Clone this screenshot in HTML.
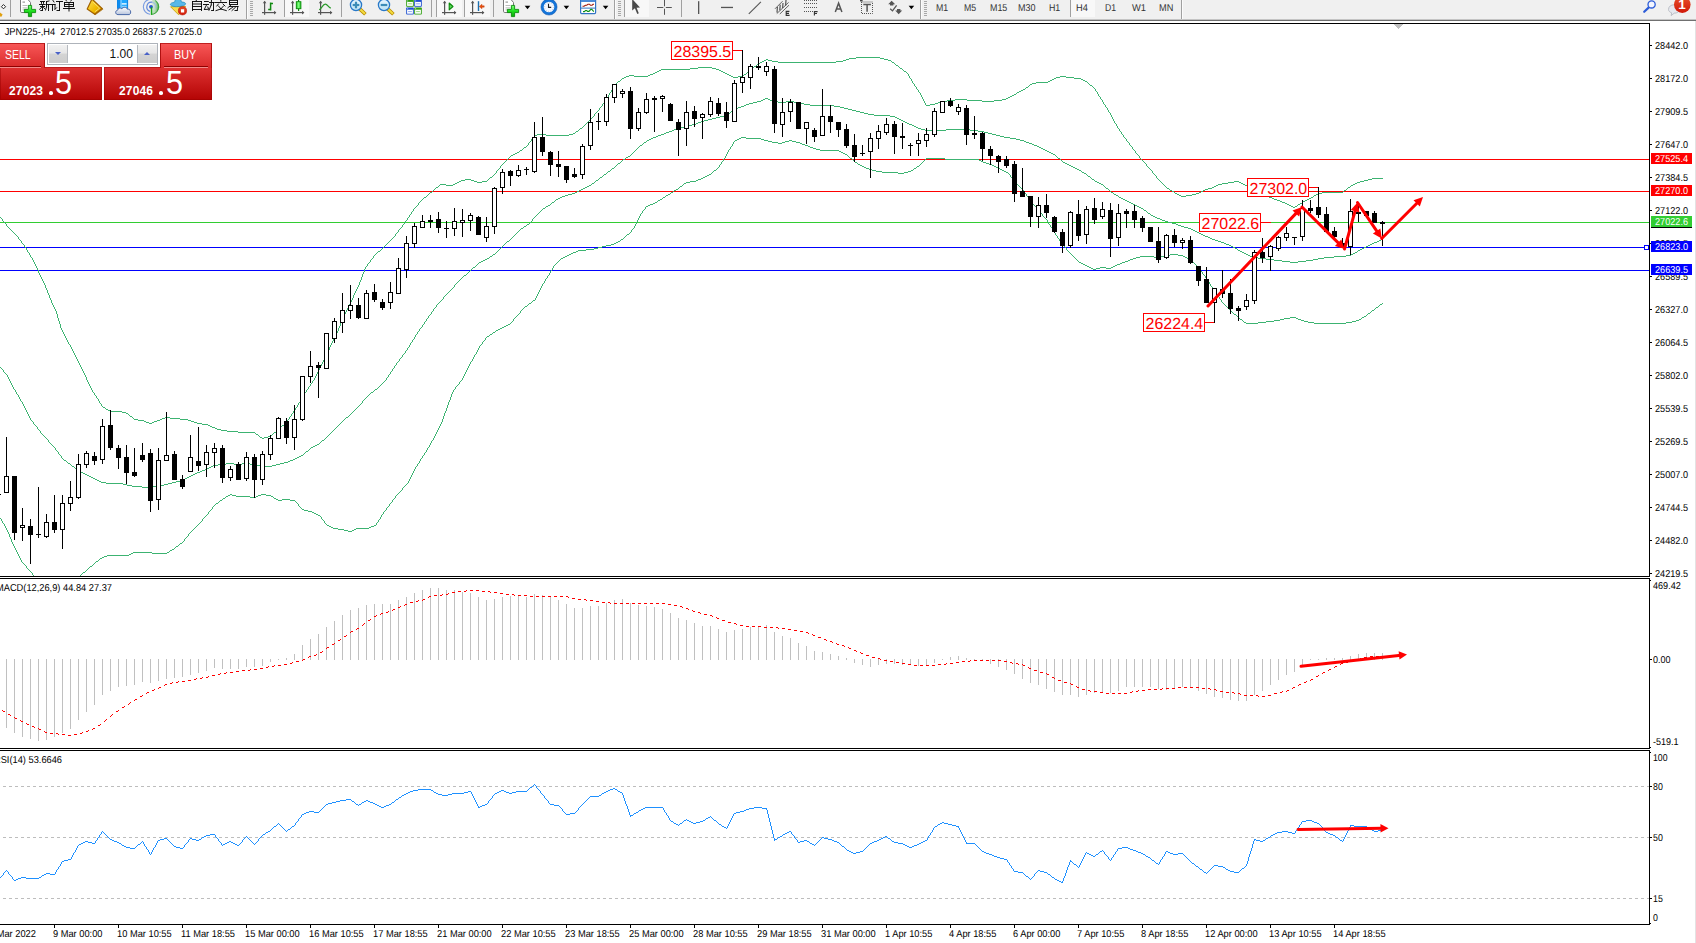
<!DOCTYPE html>
<html><head><meta charset="utf-8"><title>JPN225-,H4</title>
<style>
html,body{margin:0;padding:0;background:#fff;}
body{width:1696px;height:943px;overflow:hidden;position:relative;font-family:"Liberation Sans",sans-serif;}
#tb{position:absolute;left:0;top:0;width:1696px;height:19px;background:#f0f0f0;}
#tbl1{position:absolute;left:0;top:19px;width:1696px;height:1px;background:#c4c4c4;}
#tbl2{position:absolute;left:0;top:20px;width:1696px;height:1px;background:#707070;}
svg{position:absolute;left:0;top:0;}
svg text{font-family:"Liberation Sans",sans-serif;text-rendering:geometricPrecision;}
#oct{position:absolute;left:0;top:43px;width:212px;height:57px;color:#fff;}
#oct .sell{position:absolute;left:0;top:0;width:45px;height:25px;background:linear-gradient(#f75656,#d92a2a);z-index:2;box-sizing:border-box;border-top:1px solid #c02020;border-right:1px solid #b01010;}
#oct .buy{position:absolute;left:160px;top:0;width:52px;height:25px;background:linear-gradient(#f75656,#d92a2a);z-index:2;box-sizing:border-box;border-top:1px solid #c02020;border-left:1px solid #b01010;border-right:1px solid #b01010;}
#oct .sell span{position:absolute;left:5px;top:3.8px;font-size:12px;line-height:15px;transform:scaleX(0.875);transform-origin:0 0;}
#oct .buy span{position:absolute;left:12.8px;top:3.8px;font-size:12px;line-height:15px;transform:scaleX(0.9);transform-origin:0 0;}
#oct .sell:after{content:"";position:absolute;left:0;top:23px;width:41px;height:1px;background:#f28a8a;}
#oct .sell:before{content:"";position:absolute;left:0;top:22px;width:41px;height:1px;background:#8e0000;}
#oct .buy:after{content:"";position:absolute;left:3px;top:23px;width:44px;height:1px;background:#f28a8a;}
#oct .buy:before{content:"";position:absolute;left:3px;top:22px;width:44px;height:1px;background:#8e0000;}
#oct .pl{position:absolute;left:0;top:24px;width:102px;height:33px;background:linear-gradient(#de3232,#b40404);box-shadow:inset 0 0 0 1px rgba(150,0,0,.45);}
#oct .pr{position:absolute;left:104px;top:24px;width:108px;height:33px;background:linear-gradient(#de3232,#b40404);box-shadow:inset 0 0 0 1px rgba(150,0,0,.45);}
#oct .spin{position:absolute;left:47px;top:0;width:111px;height:22px;border:1px solid #aeb3ba;box-sizing:border-box;background:#fff;}
#oct .dn,#oct .up{position:absolute;top:1px;width:18px;height:18px;background:linear-gradient(#f2f2f2 0%,#e6e6e6 45%,#d4d4d4 50%,#cdcdcd 100%);border-right:1px solid #b6bac0;}
#oct .dn{left:1px;} #oct .up{right:0px;width:19px;border-right:none;border-left:1px solid #b6bac0;}
#oct .dn i{position:absolute;left:6px;top:7px;border-left:3px solid transparent;border-right:3px solid transparent;border-top:3px solid #4a62c8;}
#oct .up i{position:absolute;left:6px;top:7px;border-left:3px solid transparent;border-right:3px solid transparent;border-bottom:3px solid #4a62c8;}
#oct .val{position:absolute;right:24.2px;top:3px;color:#111;font-size:12px;line-height:15px;}
#oct .sm{position:absolute;font-weight:bold;font-size:12px;line-height:12px;top:18.2px;letter-spacing:0.15px;}
#oct .pl .sm{left:9px;} #oct .pr .sm{left:15px;}
#oct .dot{position:absolute;width:3.9px;height:3.7px;border-radius:50%;background:#fff;top:24.2px;font-size:0;}
#oct .pl .dot{left:48.8px;} #oct .pr .dot{left:55.3px;}
#oct .big{position:absolute;font-size:34px;line-height:34px;top:-1.6px;transform:scaleX(0.9);transform-origin:0 0;}
#oct .pl .big{left:54.6px;} #oct .pr .big{left:62.2px;}

</style></head><body>
<div id="tb"></div><div id="tbl1"></div><div id="tbl2"></div>
<svg width="1696" height="943" viewBox="0 0 1696 943">
<defs><clipPath id="cm"><rect x="0" y="24" width="1649" height="552"/></clipPath></defs>
<rect x="0" y="23" width="1650" height="1" fill="#000"/>
<rect x="1649" y="23" width="1" height="554" fill="#000"/>
<rect x="0" y="576" width="1650" height="1" fill="#000"/>
<rect x="0" y="578" width="1650" height="1" fill="#000"/>
<rect x="1649" y="578" width="1" height="171" fill="#000"/>
<rect x="0" y="748" width="1650" height="1" fill="#000"/>
<rect x="0" y="750" width="1650" height="1" fill="#000"/>
<rect x="1649" y="750" width="1" height="175" fill="#000"/>
<rect x="0" y="924" width="1650" height="1" fill="#000"/>
<rect x="1695" y="21" width="1" height="922" fill="#e3e3e3"/>
<rect x="0" y="159" width="1649" height="1" fill="#ff0000"/>
<rect x="0" y="191" width="1649" height="1" fill="#ff0000"/>
<rect x="0" y="222" width="1649" height="1" fill="#32cd32"/>
<rect x="0" y="247" width="1649" height="1" fill="#0000ff"/>
<rect x="0" y="270" width="1649" height="1" fill="#0000ff"/>
<path d="M856 57.5h24M849 58.5h7M880 58.5h4M766 59.5h2M846 59.5h3M884 59.5h4M764 60.5h2M768 60.5h4M843 60.5h3M888 60.5h3M762 61.5h2M772 61.5h6M836 61.5h7M891 61.5h1M760 62.5h2M778 62.5h58M892 62.5h2M759 63.5h1M894 63.5h1M757 64.5h2M895 64.5h1M756 65.5h1M896 65.5h2M754 66.5h2M898 66.5h1M698 67.5h14M753 67.5h1M899 67.5h1M690 68.5h8M712 68.5h4M752 68.5h1M900 68.5h2M661 69.5h29M716 69.5h3M750 69.5h2M902 69.5h1M659 70.5h2M719 70.5h2M749 70.5h1M903 70.5h1M657 71.5h2M721 71.5h2M748 71.5h1M904 71.5h2M655 72.5h2M723 72.5h2M747 72.5h1M906 72.5h1M653 73.5h2M725 73.5h2M746 73.5h1M907 73.5h1M650 74.5h3M727 74.5h2M744 74.5h2M908.5 74v2M629 75.5h5M648 75.5h2M729 75.5h2M743 75.5h1M626 76.5h3M634 76.5h14M731 76.5h2M738 76.5h5M909.5 76v2M1060 76.5h6M624 77.5h2M733 77.5h5M1056 77.5h4M1066 77.5h8M622 78.5h2M910 78.5h1M1054 78.5h2M1074 78.5h7M621 79.5h1M911.5 79v2M1052 79.5h2M1081 79.5h2M620 80.5h1M1050 80.5h2M1083 80.5h2M618 81.5h2M912.5 81v2M1048 81.5h2M1085 81.5h2M617 82.5h1M1036 82.5h12M1087 82.5h1M616 83.5h1M913 83.5h1M1032 83.5h4M1088 83.5h1M615 84.5h1M914.5 84v2M1030 84.5h2M1089 84.5h1M614 85.5h1M1029 85.5h1M1090 85.5h2M613.5 86v2M915 86.5h1M1028 86.5h1M1092 86.5h1M916.5 87v2M1026 87.5h2M1093 87.5h1M612.5 88v2M1025 88.5h1M1094 88.5h1M917 89.5h1M1023 89.5h2M1095.5 89v2M611.5 90v2M918.5 90v2M1021 90.5h2M1019 91.5h2M1096 91.5h1M610 92.5h1M919 92.5h1M1017 92.5h2M1097.5 92v2M609.5 93v2M920.5 93v2M1016 93.5h1M1014 94.5h2M1098.5 94v2M608.5 95v2M921.5 95v2M1012 95.5h2M1010 96.5h2M1099 96.5h1M607.5 97v2M922.5 97v2M1008 97.5h2M1100.5 97v2M1006 98.5h2M606 99.5h1M923.5 99v2M955 99.5h12M1002 99.5h4M1101 99.5h1M605.5 100v2M947 100.5h8M967 100.5h15M994 100.5h8M1102.5 100v2M924.5 101v2M942 101.5h5M982 101.5h12M604 102.5h1M938 102.5h4M1103.5 102v2M603 103.5h1M925.5 103v2M935 103.5h3M602.5 104v2M930 104.5h5M1104 104.5h1M926 105.5h4M1105.5 105v2M601 106.5h1M600 107.5h1M1106 107.5h1M599.5 108v2M1107.5 108v2M598 110.5h1M1108.5 110v2M597 111.5h1M596 112.5h1M1109 112.5h1M595 113.5h1M1110.5 113v2M594.5 114v2M1111.5 115v2M593 116.5h1M592 117.5h1M1112.5 117v2M591 118.5h1M590 119.5h1M1113.5 119v2M589 120.5h1M588 121.5h1M1114.5 121v2M587 122.5h1M586 123.5h1M1115 123.5h1M585 124.5h1M1116.5 124v2M584 125.5h1M583 126.5h1M1117.5 126v2M582 127.5h1M580 128.5h2M1118 128.5h1M579 129.5h1M1119.5 129v2M578 130.5h1M576 131.5h2M1120 131.5h1M575 132.5h1M1121.5 132v2M573 133.5h2M537 134.5h9M569 134.5h4M1122 134.5h1M535 135.5h2M546 135.5h23M1123.5 135v2M534 136.5h1M533 137.5h1M1124 137.5h1M532 138.5h1M1125 138.5h1M531.5 139v2M1126.5 139v2M530 141.5h1M1127 141.5h1M529 142.5h1M1128 142.5h1M528.5 143v2M1129.5 143v2M527 145.5h1M1130 145.5h1M526 146.5h1M1131 146.5h1M524 147.5h2M1132.5 147v2M523 148.5h1M522 149.5h1M1133 149.5h1M520 150.5h2M1134 150.5h1M519 151.5h1M1135.5 151v2M517 152.5h2M515 153.5h2M1136 153.5h1M513 154.5h2M1137 154.5h1M511 155.5h2M1138 155.5h1M510 156.5h1M1139.5 156v2M509 157.5h1M508 158.5h1M1140 158.5h1M507 159.5h1M1141 159.5h1M506 160.5h1M1142 160.5h1M505 161.5h1M1143 161.5h1M504 162.5h1M1144 162.5h1M503 163.5h1M1145 163.5h1M502 164.5h1M1146.5 164v2M501 165.5h1M500.5 166v2M1147 166.5h1M1148 167.5h1M499 168.5h1M1149 168.5h1M498 169.5h1M1150 169.5h1M497 170.5h1M1151 170.5h1M496.5 171v2M1152.5 171v2M495 173.5h1M1153 173.5h1M494 174.5h1M1154 174.5h1M493 175.5h1M1155 175.5h1M492 176.5h1M1156.5 176v2M490 177.5h2M489 178.5h1M1157 178.5h1M1372 178.5h11M465 179.5h6M488 179.5h1M1158 179.5h1M1368 179.5h4M461 180.5h4M471 180.5h3M487 180.5h1M1159 180.5h1M1364 180.5h4M459 181.5h2M474 181.5h3M482 181.5h5M1160 181.5h1M1234 181.5h5M1360 181.5h4M457 182.5h2M477 182.5h5M1161 182.5h1M1228 182.5h6M1239 182.5h2M1357 182.5h3M455 183.5h2M1162 183.5h1M1222 183.5h6M1241 183.5h2M1355 183.5h2M440 184.5h6M453 184.5h2M1163 184.5h1M1218 184.5h4M1243 184.5h2M1353 184.5h2M439 185.5h1M446 185.5h7M1164 185.5h1M1216 185.5h2M1245 185.5h2M1351 185.5h2M438 186.5h1M1165 186.5h1M1214 186.5h2M1247 186.5h2M1350 186.5h1M436 187.5h2M1166 187.5h1M1212 187.5h2M1249 187.5h1M1348 187.5h2M435 188.5h1M1167 188.5h2M1208 188.5h4M1250 188.5h2M1347 188.5h1M434 189.5h1M1169 189.5h1M1205 189.5h3M1252 189.5h2M1346 189.5h1M433 190.5h1M1170 190.5h2M1203 190.5h2M1254 190.5h2M1344 190.5h2M432 191.5h1M1172 191.5h2M1201 191.5h2M1256 191.5h2M1343 191.5h1M430 192.5h2M1174 192.5h1M1199 192.5h2M1258 192.5h3M1322 192.5h21M429 193.5h1M1175 193.5h2M1196 193.5h3M1261 193.5h2M1318 193.5h4M428 194.5h1M1177 194.5h2M1192 194.5h4M1263 194.5h2M1316 194.5h2M427 195.5h1M1179 195.5h2M1186 195.5h6M1265 195.5h2M1314 195.5h2M426 196.5h1M1181 196.5h5M1267 196.5h2M1313 196.5h1M424 197.5h2M1269 197.5h3M1311 197.5h2M423 198.5h1M1272 198.5h2M1309 198.5h2M422 199.5h1M1274 199.5h3M1307 199.5h2M421 200.5h1M1277 200.5h3M1305 200.5h2M420 201.5h1M1280 201.5h2M1303 201.5h2M419 202.5h1M1282 202.5h3M1302 202.5h1M418.5 203v2M1285 203.5h2M1300 203.5h2M1287 204.5h2M1298 204.5h2M417 205.5h1M1289 205.5h2M1297 205.5h1M416 206.5h1M1291 206.5h2M1295 206.5h2M415 207.5h1M1293 207.5h2M414 208.5h1M413.5 209v2M412 211.5h1M411.5 212v2M410 214.5h1M409.5 215v2M0 217.5h1M408 217.5h1M1 218.5h1M407.5 218v2M2.5 219v2M406 220.5h1M3 221.5h1M405.5 221v2M4 222.5h1M5 223.5h1M404 223.5h1M6.5 224v2M403 224.5h1M402.5 225v2M7 226.5h1M8 227.5h1M401 227.5h1M9 228.5h1M400 228.5h1M10 229.5h1M399 229.5h1M11 230.5h1M398.5 230v2M12 231.5h1M13 232.5h1M397 232.5h1M14 233.5h1M396 233.5h1M15 234.5h1M395.5 234v2M16 235.5h1M17 236.5h1M394 236.5h1M18.5 237v2M393 237.5h1M392 238.5h1M19 239.5h1M391 239.5h1M20 240.5h1M390 240.5h1M21.5 241v2M389 241.5h1M388 242.5h1M22 243.5h1M387 243.5h1M23 244.5h1M386 244.5h1M24.5 245v2M385 245.5h1M384 246.5h1M25 247.5h1M383 247.5h1M26.5 248v2M382 248.5h1M381 249.5h1M27.5 250v2M380 250.5h1M378 251.5h2M28 252.5h1M377 252.5h1M29.5 253v2M376 253.5h1M375 254.5h1M30.5 255v2M374 255.5h1M373.5 256v2M31 257.5h1M32.5 258v2M372 258.5h1M371 259.5h1M33.5 260v2M370.5 260v2M34.5 262v2M369 262.5h1M368 263.5h1M35.5 264v2M367.5 264v2M36.5 266v2M366 266.5h1M365.5 267v2M37.5 268v2M364.5 269v3M38.5 270v3M363.5 272v2M39.5 273v2M362.5 274v3M40.5 275v2M41.5 277v2M361.5 277v3M42.5 279v2M360.5 280v2M43.5 281v2M359.5 282v3M44.5 283v2M45.5 285v3M358.5 285v2M357.5 287v2M46.5 288v2M356.5 289v2M47.5 290v3M355.5 291v2M48.5 293v2M354.5 293v2M49.5 295v3M353.5 295v3M50.5 298v2M352.5 298v2M51.5 300v3M351.5 300v2M350.5 302v2M52.5 303v2M349.5 304v2M53.5 305v2M348.5 306v2M54.5 307v2M347.5 308v2M55.5 309v2M346.5 310v2M56.5 311v3M345.5 312v2M57.5 314v4M344.5 314v2M343.5 316v3M58.5 318v3M342.5 319v2M59.5 321v3M341.5 321v2M340.5 323v3M60.5 324v4M339.5 326v2M61.5 328v2M338.5 328v3M62.5 330v2M337.5 331v2M63.5 332v2M336.5 333v2M64.5 334v2M335.5 335v2M65.5 336v2M334.5 337v2M66.5 338v2M333.5 339v2M67.5 340v2M332.5 341v2M68.5 342v2M331.5 343v2M69 344.5h1M70.5 345v2M330.5 345v2M71.5 347v2M329.5 347v3M72.5 349v2M328.5 350v2M73.5 351v2M327.5 352v2M74.5 353v2M326.5 354v2M75.5 355v2M325.5 356v2M76.5 357v2M324.5 358v2M77.5 359v2M323.5 360v2M78.5 361v2M322.5 362v2M79.5 363v2M321.5 364v2M80.5 365v2M320.5 366v2M81.5 367v2M319.5 368v2M82.5 369v2M318.5 370v2M83.5 371v2M317.5 372v2M84.5 373v2M316.5 374v2M85.5 375v2M315.5 376v2M86.5 377v3M314.5 378v2M87.5 380v2M313 380.5h1M312.5 381v2M88.5 382v2M311 383.5h1M89.5 384v2M310.5 384v2M90.5 386v2M309 386.5h1M308.5 387v2M91.5 388v2M307 389.5h1M92.5 390v2M306.5 390v2M93 392.5h1M305 392.5h1M94.5 393v2M304.5 393v2M95 395.5h1M303.5 395v2M96.5 396v2M302 397.5h1M97 398.5h1M301.5 398v2M98.5 399v2M300.5 400v2M99.5 401v2M299 402.5h1M100 403.5h1M298.5 403v2M101.5 404v2M297.5 405v2M102 406.5h1M103 407.5h2M296 407.5h1M105 408.5h1M295.5 408v2M106 409.5h2M108 410.5h2M294 410.5h1M110 411.5h12M293.5 411v2M122 412.5h4M126 413.5h2M292 413.5h1M128 414.5h1M291.5 414v2M129 415.5h1M130 416.5h2M290 416.5h1M132 417.5h1M165 417.5h5M289.5 417v2M133 418.5h1M162 418.5h3M170 418.5h10M134 419.5h4M160 419.5h2M180 419.5h8M288 419.5h1M138 420.5h6M157 420.5h3M188 420.5h3M287.5 420v2M144 421.5h2M154 421.5h3M191 421.5h3M146 422.5h3M152 422.5h2M194 422.5h3M286 422.5h1M149 423.5h3M197 423.5h5M285 423.5h1M202 424.5h6M284 424.5h1M208 425.5h2M282 425.5h2M210 426.5h2M281 426.5h1M212 427.5h3M280 427.5h1M215 428.5h2M279 428.5h1M217 429.5h4M278 429.5h1M221 430.5h6M277 430.5h1M227 431.5h11M276 431.5h1M238 432.5h17M274 432.5h2M255 433.5h1M273 433.5h1M256 434.5h2M272 434.5h1M258 435.5h1M271 435.5h1M259 436.5h1M268 436.5h3M260 437.5h2M264 437.5h4M262 438.5h2" stroke="#3cb371" fill="none" shape-rendering="crispEdges"/>
<path d="M765 98.5h3M763 99.5h2M768 99.5h2M761 100.5h2M770 100.5h3M757 101.5h4M773 101.5h5M786 101.5h8M753 102.5h4M778 102.5h8M794 102.5h6M749 103.5h4M800 103.5h4M746 104.5h3M804 104.5h6M744 105.5h2M810 105.5h24M741 106.5h3M834 106.5h6M738 107.5h3M840 107.5h4M736 108.5h2M844 108.5h4M734 109.5h2M848 109.5h4M732 110.5h2M852 110.5h4M731 111.5h1M856 111.5h4M730 112.5h1M860 112.5h4M728 113.5h2M864 113.5h4M727 114.5h1M868 114.5h6M724 115.5h3M874 115.5h16M720 116.5h4M890 116.5h5M716 117.5h4M895 117.5h2M712 118.5h4M897 118.5h2M708 119.5h4M899 119.5h2M704 120.5h4M901 120.5h2M701 121.5h3M903 121.5h2M698 122.5h3M905 122.5h2M696 123.5h2M907 123.5h2M692 124.5h4M909 124.5h3M688 125.5h4M912 125.5h2M684 126.5h4M914 126.5h2M680 127.5h4M916 127.5h2M677 128.5h3M918 128.5h3M674 129.5h3M921 129.5h4M946 129.5h24M672 130.5h2M925 130.5h21M970 130.5h8M669 131.5h3M978 131.5h6M666 132.5h3M984 132.5h4M664 133.5h2M988 133.5h4M661 134.5h3M992 134.5h4M658 135.5h3M996 135.5h4M656 136.5h2M1000 136.5h4M653 137.5h3M1004 137.5h6M651 138.5h2M1010 138.5h6M649 139.5h2M1016 139.5h4M647 140.5h2M1020 140.5h4M646 141.5h1M1024 141.5h2M644 142.5h2M1026 142.5h3M643 143.5h1M1029 143.5h3M642 144.5h1M1032 144.5h2M640 145.5h2M1034 145.5h3M639 146.5h1M1037 146.5h2M638 147.5h1M1039 147.5h2M637 148.5h1M1041 148.5h2M636 149.5h1M1043 149.5h2M635 150.5h1M1045 150.5h2M634 151.5h1M1047 151.5h2M633 152.5h1M1049 152.5h2M632 153.5h1M1051 153.5h2M631 154.5h1M1053 154.5h2M630 155.5h1M1055 155.5h1M628 156.5h2M1056 156.5h1M626 157.5h2M1057 157.5h1M625 158.5h1M1058 158.5h2M623 159.5h2M1060 159.5h1M622 160.5h1M1061 160.5h1M621 161.5h1M1062 161.5h1M620 162.5h1M1063 162.5h2M618 163.5h2M1065 163.5h2M617 164.5h1M1067 164.5h2M616 165.5h1M1069 165.5h2M615 166.5h1M1071 166.5h2M614 167.5h1M1073 167.5h2M612 168.5h2M1075 168.5h2M611 169.5h1M1077 169.5h2M610 170.5h1M1079 170.5h2M608 171.5h2M1081 171.5h1M607 172.5h1M1082 172.5h2M606 173.5h1M1084 173.5h2M604 174.5h2M1086 174.5h1M603 175.5h1M1087 175.5h1M602 176.5h1M1088 176.5h2M600 177.5h2M1090 177.5h1M599 178.5h1M1091 178.5h1M598 179.5h1M1092 179.5h2M596 180.5h2M1094 180.5h1M595 181.5h1M1095 181.5h2M594 182.5h1M1097 182.5h2M592 183.5h2M1099 183.5h2M591 184.5h1M1101 184.5h2M589 185.5h2M1103 185.5h1M587 186.5h2M1104 186.5h1M585 187.5h2M1105 187.5h1M583 188.5h2M1106 188.5h2M581 189.5h2M1108 189.5h1M579 190.5h2M1109 190.5h1M577 191.5h2M1110 191.5h1M575 192.5h2M1111 192.5h2M572 193.5h3M1113 193.5h1M568 194.5h4M1114 194.5h2M565 195.5h3M1116 195.5h2M562 196.5h3M1118 196.5h1M560 197.5h2M1119 197.5h2M558 198.5h2M1121 198.5h2M556 199.5h2M1123 199.5h2M555 200.5h1M1125 200.5h2M554 201.5h1M1127 201.5h2M552 202.5h2M1129 202.5h2M551 203.5h1M1131 203.5h2M550 204.5h1M1133 204.5h2M548 205.5h2M1135 205.5h2M546 206.5h2M1137 206.5h2M545 207.5h1M1139 207.5h2M543 208.5h2M1141 208.5h2M542 209.5h1M1143 209.5h1M541 210.5h1M1144 210.5h2M540 211.5h1M1146 211.5h1M539 212.5h1M1147 212.5h1M538 213.5h1M1148 213.5h2M537 214.5h1M1150 214.5h1M536 215.5h1M1151 215.5h2M535 216.5h1M1153 216.5h2M534 217.5h1M1155 217.5h2M533 218.5h1M1157 218.5h3M532.5 219v2M1160 219.5h2M1162 220.5h3M531 221.5h1M1165 221.5h3M530 222.5h1M1168 222.5h4M529 223.5h1M1172 223.5h4M527 224.5h2M1176 224.5h2M526 225.5h1M1178 225.5h3M524 226.5h2M1181 226.5h3M523 227.5h1M1184 227.5h4M521 228.5h2M1188 228.5h3M520 229.5h1M1191 229.5h2M519 230.5h1M1193 230.5h2M518 231.5h1M1195 231.5h2M517 232.5h1M1197 232.5h2M516 233.5h1M1199 233.5h2M515 234.5h1M1201 234.5h2M514 235.5h1M1203 235.5h2M513 236.5h1M1205 236.5h3M512 237.5h1M1208 237.5h2M511 238.5h1M1210 238.5h2M510 239.5h1M1212 239.5h3M1381 239.5h2M509 240.5h1M1215 240.5h3M1379 240.5h2M507 241.5h2M1218 241.5h3M1377 241.5h2M506 242.5h1M1221 242.5h3M1374 242.5h3M505 243.5h1M1224 243.5h2M1372 243.5h2M504 244.5h1M1226 244.5h3M1370 244.5h2M503 245.5h1M1229 245.5h2M1368 245.5h2M502 246.5h1M1231 246.5h2M1366 246.5h2M501 247.5h1M1233 247.5h2M1364 247.5h2M500 248.5h1M1235 248.5h2M1362 248.5h2M499 249.5h1M1237 249.5h1M1360 249.5h2M498 250.5h1M1238 250.5h2M1358 250.5h2M497 251.5h1M1240 251.5h2M1357 251.5h1M496 252.5h1M1242 252.5h2M1355 252.5h2M495 253.5h1M1244 253.5h2M1353 253.5h2M493 254.5h2M1246 254.5h2M1351 254.5h2M492 255.5h1M1248 255.5h2M1346 255.5h5M490 256.5h2M1250 256.5h3M1334 256.5h12M489 257.5h1M1253 257.5h5M1324 257.5h10M487 258.5h2M1258 258.5h8M1318 258.5h6M485 259.5h2M1266 259.5h8M1313 259.5h5M483 260.5h2M1274 260.5h8M1306 260.5h7M481 261.5h2M1282 261.5h8M1298 261.5h8M479 262.5h2M1290 262.5h8M478 263.5h1M477 264.5h1M476 265.5h1M475 266.5h1M473 267.5h2M472 268.5h1M471 269.5h1M470 270.5h1M469 271.5h1M468 272.5h1M467 273.5h1M466 274.5h1M464 275.5h2M463 276.5h1M462 277.5h1M461 278.5h1M460 279.5h1M459 280.5h1M458 281.5h1M457 282.5h1M456 283.5h1M455 284.5h1M454.5 285v2M453 287.5h1M452 288.5h1M451 289.5h1M450 290.5h1M449 291.5h1M448 292.5h1M447 293.5h1M446 294.5h1M445 295.5h1M444 296.5h1M443.5 297v2M442 299.5h1M441 300.5h1M440 301.5h1M439 302.5h1M438 303.5h1M437 304.5h1M436.5 305v2M435 307.5h1M434 308.5h1M433.5 309v2M432 311.5h1M431.5 312v2M430 314.5h1M429 315.5h1M428.5 316v2M427 318.5h1M426.5 319v2M425 321.5h1M424.5 322v2M423 324.5h1M422.5 325v2M421 327.5h1M420 328.5h1M419.5 329v2M418 331.5h1M417.5 332v2M416 334.5h1M415.5 335v2M414.5 337v2M413 339.5h1M412.5 340v2M411 342.5h1M410.5 343v2M409.5 345v2M408 347.5h1M407.5 348v2M406 350.5h1M405.5 351v2M404 353.5h1M403 354.5h1M402.5 355v2M401 357.5h1M400 358.5h1M399.5 359v2M398 361.5h1M397 362.5h1M396.5 363v2M395 365.5h1M394.5 366v2M0 367.5h1M1 368.5h1M393 368.5h1M2 369.5h1M392.5 369v2M3.5 370v2M391 371.5h1M4 372.5h1M390.5 372v2M5 373.5h1M6 374.5h1M389 374.5h1M7.5 375v2M388.5 375v2M8.5 377v2M387 377.5h1M386.5 378v2M9.5 379v2M385 380.5h1M10.5 381v2M384 381.5h1M383 382.5h1M11.5 383v2M382 383.5h1M381 384.5h1M12.5 385v2M380 385.5h1M379 386.5h1M13.5 387v2M378 387.5h1M377 388.5h1M14 389.5h1M375 389.5h2M15.5 390v2M374 390.5h1M373 391.5h1M16.5 392v2M371 392.5h2M370 393.5h1M17 394.5h1M369 394.5h1M18.5 395v2M368 395.5h1M367 396.5h1M19.5 397v2M366 397.5h1M365 398.5h1M20.5 399v2M364 399.5h1M363 400.5h1M21 401.5h1M362.5 401v2M22.5 402v2M361 403.5h1M23.5 404v2M360 404.5h1M359 405.5h1M24.5 406v2M358 406.5h1M357 407.5h1M25.5 408v2M356 408.5h1M355 409.5h1M26.5 410v2M354 410.5h1M353 411.5h1M27.5 412v2M352 412.5h1M351 413.5h1M28.5 414v2M350 414.5h1M349 415.5h1M29.5 416v2M348 416.5h1M346 417.5h2M30.5 418v2M345 418.5h1M344 419.5h1M31 420.5h1M343 420.5h1M32 421.5h1M342 421.5h1M33.5 422v2M341 422.5h1M340 423.5h1M34 424.5h1M339 424.5h1M35 425.5h1M338 425.5h1M36 426.5h1M337 426.5h1M37.5 427v2M336 427.5h1M335 428.5h1M38 429.5h1M334 429.5h1M39 430.5h1M333 430.5h1M40.5 431v2M332 431.5h1M331 432.5h1M41 433.5h1M330 433.5h1M42 434.5h1M329 434.5h1M43 435.5h1M328 435.5h1M44 436.5h1M327 436.5h1M45 437.5h1M326 437.5h1M46 438.5h1M325 438.5h1M47 439.5h1M324 439.5h1M48.5 440v2M322 440.5h2M321 441.5h1M49 442.5h1M320 442.5h1M50 443.5h1M319 443.5h1M51 444.5h1M317 444.5h2M52 445.5h1M315 445.5h2M53 446.5h1M313 446.5h2M54 447.5h1M311 447.5h2M55.5 448v2M310 448.5h1M309 449.5h1M56 450.5h1M308 450.5h1M57 451.5h1M306 451.5h2M58.5 452v2M305 452.5h1M304 453.5h1M59 454.5h1M303 454.5h1M60 455.5h1M301 455.5h2M61.5 456v2M299 456.5h2M297 457.5h2M62 458.5h1M295 458.5h2M63 459.5h1M293 459.5h2M64 460.5h2M290 460.5h3M66 461.5h1M288 461.5h2M67 462.5h1M284 462.5h4M68 463.5h2M226 463.5h8M242 463.5h8M280 463.5h4M70 464.5h1M218 464.5h8M234 464.5h8M250 464.5h6M276 464.5h4M71 465.5h1M213 465.5h5M256 465.5h4M272 465.5h4M72 466.5h2M211 466.5h2M260 466.5h12M74 467.5h1M209 467.5h2M75 468.5h1M207 468.5h2M76 469.5h2M205 469.5h2M78 470.5h1M202 470.5h3M79 471.5h2M200 471.5h2M81 472.5h2M197 472.5h3M83 473.5h2M195 473.5h2M85 474.5h2M193 474.5h2M87 475.5h2M191 475.5h2M89 476.5h2M189 476.5h2M91 477.5h2M187 477.5h2M93 478.5h2M185 478.5h2M95 479.5h2M183 479.5h2M97 480.5h2M180 480.5h3M99 481.5h2M176 481.5h4M101 482.5h5M172 482.5h4M106 483.5h17M168 483.5h4M123 484.5h4M164 484.5h4M127 485.5h5M158 485.5h6M132 486.5h10M153 486.5h5M142 487.5h11" stroke="#3cb371" fill="none" shape-rendering="crispEdges"/>
<path d="M0 518.5h1M1.5 519v2M2.5 521v2M3 523.5h1M4.5 524v2M5.5 526v2M6.5 528v2M7.5 530v2M8.5 532v2M9.5 534v3M10.5 537v2M11.5 539v3M12.5 542v2M13.5 544v2M14.5 546v2M15.5 548v2M16.5 550v2M17.5 552v2M18.5 554v2M19.5 556v2M20.5 558v2M21.5 560v2M22 562.5h1M23 563.5h1M24 564.5h1M25 565.5h1M26.5 566v2M27 568.5h1M28 569.5h1M29 570.5h1M30 571.5h1M31 572.5h1M32.5 573v2M33 575.5h1" stroke="#3cb371" fill="none" shape-rendering="crispEdges"/>
<path d="M741 137.5h5M739 138.5h2M746 138.5h15M737 139.5h2M761 139.5h3M735 140.5h2M764 140.5h4M789 140.5h3M734 141.5h1M768 141.5h4M785 141.5h4M792 141.5h4M733.5 142v2M772 142.5h6M782 142.5h3M796 142.5h4M778 143.5h4M800 143.5h2M732.5 144v2M802 144.5h3M805 145.5h3M731 146.5h1M808 146.5h2M730.5 147v2M810 147.5h3M813 148.5h3M729 149.5h1M816 149.5h4M728.5 150v2M820 150.5h19M839 151.5h2M727.5 152v2M841 152.5h2M843 153.5h2M726.5 154v2M845 154.5h2M847 155.5h1M725.5 156v2M848 156.5h1M849 157.5h1M724 158.5h1M850 158.5h2M926 158.5h19M723.5 159v2M852 159.5h1M925 159.5h1M945 159.5h34M853 160.5h1M924 160.5h1M979 160.5h2M722 161.5h1M854 161.5h1M923 161.5h1M981 161.5h2M721.5 162v2M855 162.5h2M922 162.5h1M983 162.5h3M857 163.5h1M921 163.5h1M986 163.5h3M720 164.5h1M858 164.5h2M920 164.5h1M989 164.5h3M719.5 165v2M860 165.5h2M919 165.5h1M992 165.5h2M862 166.5h2M917 166.5h2M994 166.5h2M718 167.5h1M864 167.5h2M916 167.5h1M996 167.5h2M717 168.5h1M866 168.5h3M914 168.5h2M998 168.5h2M716 169.5h1M869 169.5h3M913 169.5h1M1000 169.5h2M714 170.5h2M872 170.5h4M911 170.5h2M1002 170.5h2M713 171.5h1M876 171.5h6M908 171.5h3M1004 171.5h2M712 172.5h1M882 172.5h16M904 172.5h4M1006 172.5h2M711 173.5h1M898 173.5h6M1008 173.5h1M709 174.5h2M1009 174.5h1M707 175.5h2M1010.5 175v2M705 176.5h2M703 177.5h2M1011 177.5h1M701 178.5h2M1012 178.5h1M698 179.5h3M1013.5 179v2M696 180.5h2M690 181.5h6M1014 181.5h1M686 182.5h4M1015 182.5h1M684 183.5h2M1016 183.5h1M683 184.5h1M1017 184.5h1M682 185.5h1M1018 185.5h1M680 186.5h2M1019 186.5h1M679 187.5h1M1020 187.5h1M678 188.5h1M1021 188.5h1M676 189.5h2M1022 189.5h1M674 190.5h2M1023.5 190v2M673 191.5h1M671 192.5h2M1024 192.5h1M670 193.5h1M1025 193.5h1M668 194.5h2M1026.5 194v2M666 195.5h2M665 196.5h1M1027 196.5h1M663 197.5h2M1028 197.5h1M662 198.5h1M1029.5 198v2M660 199.5h2M658 200.5h2M1030 200.5h1M657 201.5h1M1031 201.5h1M655 202.5h2M1032.5 202v2M653 203.5h2M650 204.5h3M1033 204.5h1M648 205.5h2M1034 205.5h1M646 206.5h2M1035 206.5h1M645.5 207v2M1036.5 207v2M644 209.5h1M1037 209.5h1M643 210.5h1M1038 210.5h1M642.5 211v2M1039 211.5h1M1040 212.5h1M641 213.5h1M1041 213.5h1M640.5 214v2M1042.5 214v2M639.5 216v2M1043 216.5h1M1044 217.5h1M638.5 218v2M1045 218.5h1M1046 219.5h1M637.5 220v2M1047.5 220v2M636.5 222v2M1048.5 222v2M635.5 224v2M1049 224.5h1M1050.5 225v2M634.5 226v2M1051 227.5h1M633 228.5h1M1052.5 228v2M632 229.5h1M631.5 230v2M1053.5 230v2M630 232.5h1M1054 232.5h1M629 233.5h1M1055.5 233v2M627 234.5h2M626 235.5h1M1056 235.5h1M625 236.5h1M1057.5 236v2M624 237.5h1M623 238.5h1M1058 238.5h1M621 239.5h2M1059.5 239v2M620 240.5h1M618 241.5h2M1060 241.5h1M616 242.5h2M1061.5 242v2M614 243.5h2M611 244.5h3M1062 244.5h1M606 245.5h5M1063 245.5h1M602 246.5h4M1064 246.5h1M598 247.5h4M1065 247.5h1M594 248.5h4M1066.5 248v2M586 249.5h8M578 250.5h8M1067 250.5h1M576 251.5h2M1068 251.5h1M573 252.5h3M1069 252.5h1M571 253.5h2M1070 253.5h1M569 254.5h2M1071 254.5h1M1170 254.5h8M567 255.5h2M1072 255.5h1M1164 255.5h6M1178 255.5h5M565 256.5h2M1073 256.5h1M1140 256.5h14M1160 256.5h4M1183 256.5h2M563 257.5h2M1074 257.5h1M1136 257.5h4M1154 257.5h6M1185 257.5h2M561 258.5h2M1075 258.5h1M1133 258.5h3M1187 258.5h2M560 259.5h1M1076 259.5h1M1130 259.5h3M1189 259.5h2M559 260.5h1M1077 260.5h1M1128 260.5h2M1191 260.5h1M558 261.5h1M1078 261.5h1M1125 261.5h3M1192 261.5h1M557 262.5h1M1079 262.5h2M1122 262.5h3M1193 262.5h1M556 263.5h1M1081 263.5h2M1120 263.5h2M1194 263.5h1M555 264.5h1M1083 264.5h2M1117 264.5h3M1195 264.5h1M554 265.5h1M1085 265.5h2M1115 265.5h2M1196 265.5h1M553.5 266v2M1087 266.5h2M1113 266.5h2M1197 266.5h1M1089 267.5h2M1100 267.5h6M1111 267.5h2M1198 267.5h1M552.5 268v2M1091 268.5h2M1096 268.5h4M1106 268.5h5M1199.5 268v2M1093 269.5h3M551 270.5h1M1200 270.5h1M550.5 271v2M1201 271.5h1M1202.5 272v2M549.5 273v2M1203 274.5h1M548 275.5h1M1204 275.5h1M547.5 276v2M1205.5 276v2M546 278.5h1M1206 278.5h1M545.5 279v2M1207.5 279v2M544.5 281v2M1208 281.5h1M1209.5 282v2M543 283.5h1M542.5 284v2M1210.5 284v2M541.5 286v2M1211 286.5h1M1212.5 287v2M540.5 288v2M1213 289.5h1M539.5 290v2M1214.5 290v2M538.5 292v2M1215 292.5h1M1216.5 293v2M537.5 294v2M1217 295.5h1M536.5 296v2M1218 296.5h1M1219.5 297v2M535.5 298v2M1220 299.5h1M533 300.5h2M1221.5 300v2M532 301.5h1M531 302.5h1M1222 302.5h1M529 303.5h2M1223 303.5h1M1382 303.5h1M528 304.5h1M1224 304.5h1M1380 304.5h2M527 305.5h1M1225 305.5h1M1379 305.5h1M525 306.5h2M1226 306.5h1M1378 306.5h1M524 307.5h1M1227 307.5h1M1376 307.5h2M523 308.5h1M1228 308.5h1M1375 308.5h1M522 309.5h1M1229 309.5h1M1374 309.5h1M521 310.5h1M1230 310.5h1M1372 310.5h2M520.5 311v2M1231 311.5h1M1371 311.5h1M1232 312.5h1M1370 312.5h1M519 313.5h1M1233 313.5h1M1368 313.5h2M518 314.5h1M1234 314.5h2M1367 314.5h1M517 315.5h1M1236 315.5h1M1366 315.5h1M516 316.5h1M1237 316.5h1M1364 316.5h2M515 317.5h1M1238 317.5h1M1290 317.5h6M1362 317.5h2M514 318.5h1M1239 318.5h1M1284 318.5h6M1296 318.5h2M1361 318.5h1M513.5 319v2M1240 319.5h2M1280 319.5h4M1298 319.5h3M1359 319.5h2M1242 320.5h1M1274 320.5h6M1301 320.5h3M1356 320.5h3M512 321.5h1M1243 321.5h1M1266 321.5h8M1304 321.5h4M1352 321.5h4M511 322.5h1M1244 322.5h2M1258 322.5h8M1308 322.5h6M1346 322.5h6M510 323.5h1M1246 323.5h12M1314 323.5h32M508 324.5h2M506 325.5h2M504 326.5h2M502 327.5h2M500 328.5h2M498 329.5h2M496 330.5h2M495 331.5h1M493 332.5h2M492 333.5h1M490 334.5h2M489 335.5h1M487 336.5h2M486 337.5h1M485.5 338v2M484 340.5h1M483 341.5h1M482.5 342v2M481 344.5h1M480 345.5h1M479.5 346v2M478.5 348v2M477.5 350v2M476.5 352v2M475 354.5h1M474.5 355v2M473.5 357v2M472.5 359v2M471 361.5h1M470.5 362v2M469.5 364v2M468.5 366v2M467.5 368v2M466.5 370v2M465.5 372v2M464.5 374v2M463.5 376v2M462.5 378v2M461 380.5h1M460 381.5h1M459.5 382v2M458 384.5h1M457 385.5h1M456 386.5h1M455.5 387v2M454 389.5h1M453.5 390v2M452.5 392v2M451.5 394v3M450.5 397v3M449.5 400v2M448.5 402v3M447.5 405v3M446.5 408v3M445.5 411v2M444.5 413v3M443.5 416v3M442.5 419v3M441.5 422v2M440.5 424v2M439.5 426v2M438.5 428v2M437.5 430v2M436.5 432v2M435.5 434v2M434.5 436v2M433.5 438v2M432 440.5h1M431.5 441v2M430.5 443v2M429.5 445v2M428 447.5h1M427.5 448v2M426.5 450v2M425 452.5h1M424.5 453v2M423 455.5h1M422.5 456v2M421 458.5h1M420.5 459v2M419.5 461v2M418 463.5h1M417.5 464v2M416 466.5h1M415.5 467v2M414.5 469v2M413.5 471v2M412.5 473v2M411.5 475v2M410.5 477v2M409.5 479v2M408.5 481v2M407 483.5h1M406 484.5h1M405 485.5h1M404 486.5h1M403 487.5h1M402.5 488v2M401 490.5h1M400 491.5h1M399 492.5h1M398 493.5h1M230 494.5h2M261 494.5h5M397 494.5h1M228 495.5h2M232 495.5h4M258 495.5h3M266 495.5h5M396 495.5h1M226 496.5h2M236 496.5h14M256 496.5h2M271 496.5h2M395.5 496v2M225 497.5h1M250 497.5h6M273 497.5h1M223 498.5h2M274 498.5h2M394 498.5h1M222 499.5h1M276 499.5h2M282 499.5h8M393 499.5h1M220 500.5h2M278 500.5h4M290 500.5h5M392.5 500v2M219 501.5h1M295 501.5h1M218 502.5h1M296 502.5h1M391 502.5h1M216 503.5h2M297 503.5h1M390 503.5h1M215 504.5h1M298.5 504v2M389.5 504v2M214 505.5h1M213 506.5h1M299 506.5h1M388 506.5h1M212.5 507v2M300 507.5h1M387 507.5h1M301 508.5h1M386.5 508v2M211 509.5h1M302 509.5h2M210 510.5h1M304 510.5h4M385 510.5h1M209 511.5h1M308 511.5h4M384 511.5h1M208.5 512v2M312 512.5h2M383.5 512v2M314 513.5h2M207 514.5h1M316 514.5h2M382 514.5h1M206 515.5h1M318 515.5h2M381.5 515v2M205 516.5h1M320 516.5h1M204 517.5h1M321.5 517v2M380.5 517v2M203 518.5h1M202.5 519v2M322 519.5h1M379 519.5h1M323 520.5h1M378.5 520v2M201 521.5h1M324.5 521v2M200 522.5h1M377 522.5h1M199 523.5h1M325 523.5h1M376.5 523v2M198 524.5h1M326 524.5h1M197 525.5h1M327 525.5h2M374 525.5h2M196 526.5h1M329 526.5h2M371 526.5h3M195 527.5h1M331 527.5h2M369 527.5h2M194 528.5h1M333 528.5h5M356 528.5h13M193 529.5h1M338 529.5h6M354 529.5h2M192 530.5h1M344 530.5h4M352 530.5h2M191 531.5h1M348 531.5h4M190 532.5h1M189 533.5h1M188.5 534v2M187 536.5h1M186 537.5h1M185 538.5h1M184.5 539v2M183 541.5h1M182 542.5h1M180 543.5h2M179 544.5h1M178 545.5h1M176 546.5h2M175 547.5h1M174 548.5h1M172 549.5h2M170 550.5h2M169 551.5h1M133 552.5h19M167 552.5h2M131 553.5h2M152 553.5h15M129 554.5h2M107 555.5h22M104 556.5h3M102 557.5h2M100 558.5h2M99 559.5h1M98 560.5h1M96 561.5h2M95 562.5h1M94 563.5h1M93 564.5h1M92 565.5h1M90 566.5h2M89 567.5h1M88 568.5h1M87 569.5h1M86 570.5h1M85 571.5h1M83 572.5h2M82 573.5h1M81 574.5h1M80 575.5h1" stroke="#3cb371" fill="none" shape-rendering="crispEdges"/>
<g shape-rendering="crispEdges">
<rect x="0" y="494" width="1" height="1" fill="#000"/>
<rect x="6" y="437" width="1" height="56" fill="#000"/>
<rect x="4" y="476" width="5" height="17" fill="#000"/>
<rect x="5" y="477" width="3" height="15" fill="#fff"/>
<rect x="14" y="476" width="1" height="64" fill="#000"/>
<rect x="12" y="476" width="5" height="57" fill="#000"/>
<rect x="22" y="508" width="1" height="33" fill="#000"/>
<rect x="20" y="525" width="5" height="3" fill="#000"/>
<rect x="21" y="526" width="3" height="1" fill="#fff"/>
<rect x="30" y="519" width="1" height="45" fill="#000"/>
<rect x="28" y="526" width="5" height="9" fill="#000"/>
<rect x="38" y="487" width="1" height="51" fill="#000"/>
<rect x="36" y="534" width="5" height="1" fill="#000"/>
<rect x="46" y="514" width="1" height="24" fill="#000"/>
<rect x="44" y="522" width="5" height="15" fill="#000"/>
<rect x="45" y="523" width="3" height="13" fill="#fff"/>
<rect x="54" y="495" width="1" height="38" fill="#000"/>
<rect x="52" y="522" width="5" height="8" fill="#000"/>
<rect x="62" y="495" width="1" height="54" fill="#000"/>
<rect x="60" y="503" width="5" height="27" fill="#000"/>
<rect x="61" y="504" width="3" height="25" fill="#fff"/>
<rect x="70" y="481" width="1" height="30" fill="#000"/>
<rect x="68" y="497" width="5" height="7" fill="#000"/>
<rect x="69" y="498" width="3" height="5" fill="#fff"/>
<rect x="78" y="454" width="1" height="45" fill="#000"/>
<rect x="76" y="464" width="5" height="34" fill="#000"/>
<rect x="77" y="465" width="3" height="32" fill="#fff"/>
<rect x="86" y="451" width="1" height="17" fill="#000"/>
<rect x="84" y="453" width="5" height="12" fill="#000"/>
<rect x="85" y="454" width="3" height="10" fill="#fff"/>
<rect x="94" y="452" width="1" height="13" fill="#000"/>
<rect x="92" y="456" width="5" height="5" fill="#000"/>
<rect x="102" y="419" width="1" height="45" fill="#000"/>
<rect x="100" y="426" width="5" height="34" fill="#000"/>
<rect x="101" y="427" width="3" height="32" fill="#fff"/>
<rect x="110" y="410" width="1" height="40" fill="#000"/>
<rect x="108" y="425" width="5" height="23" fill="#000"/>
<rect x="118" y="445" width="1" height="24" fill="#000"/>
<rect x="116" y="448" width="5" height="10" fill="#000"/>
<rect x="126" y="445" width="1" height="39" fill="#000"/>
<rect x="124" y="457" width="5" height="16" fill="#000"/>
<rect x="134" y="448" width="1" height="29" fill="#000"/>
<rect x="132" y="472" width="5" height="4" fill="#000"/>
<rect x="142" y="443" width="1" height="19" fill="#000"/>
<rect x="140" y="455" width="5" height="5" fill="#000"/>
<rect x="150" y="449" width="1" height="63" fill="#000"/>
<rect x="148" y="453" width="5" height="48" fill="#000"/>
<rect x="158" y="448" width="1" height="62" fill="#000"/>
<rect x="156" y="460" width="5" height="40" fill="#000"/>
<rect x="157" y="461" width="3" height="38" fill="#fff"/>
<rect x="166" y="412" width="1" height="49" fill="#000"/>
<rect x="164" y="455" width="5" height="6" fill="#000"/>
<rect x="165" y="456" width="3" height="4" fill="#fff"/>
<rect x="174" y="451" width="1" height="29" fill="#000"/>
<rect x="172" y="454" width="5" height="26" fill="#000"/>
<rect x="182" y="475" width="1" height="14" fill="#000"/>
<rect x="180" y="479" width="5" height="8" fill="#000"/>
<rect x="190" y="435" width="1" height="37" fill="#000"/>
<rect x="188" y="457" width="5" height="15" fill="#000"/>
<rect x="189" y="458" width="3" height="13" fill="#fff"/>
<rect x="198" y="427" width="1" height="44" fill="#000"/>
<rect x="196" y="461" width="5" height="5" fill="#000"/>
<rect x="206" y="445" width="1" height="32" fill="#000"/>
<rect x="204" y="452" width="5" height="13" fill="#000"/>
<rect x="205" y="453" width="3" height="11" fill="#fff"/>
<rect x="214" y="443" width="1" height="25" fill="#000"/>
<rect x="212" y="448" width="5" height="5" fill="#000"/>
<rect x="213" y="449" width="3" height="3" fill="#fff"/>
<rect x="222" y="445" width="1" height="38" fill="#000"/>
<rect x="220" y="448" width="5" height="30" fill="#000"/>
<rect x="230" y="466" width="1" height="15" fill="#000"/>
<rect x="228" y="469" width="5" height="9" fill="#000"/>
<rect x="229" y="470" width="3" height="7" fill="#fff"/>
<rect x="238" y="462" width="1" height="18" fill="#000"/>
<rect x="236" y="464" width="5" height="16" fill="#000"/>
<rect x="246" y="452" width="1" height="29" fill="#000"/>
<rect x="244" y="457" width="5" height="22" fill="#000"/>
<rect x="245" y="458" width="3" height="20" fill="#fff"/>
<rect x="254" y="454" width="1" height="44" fill="#000"/>
<rect x="252" y="457" width="5" height="23" fill="#000"/>
<rect x="262" y="451" width="1" height="34" fill="#000"/>
<rect x="260" y="454" width="5" height="26" fill="#000"/>
<rect x="261" y="455" width="3" height="24" fill="#fff"/>
<rect x="270" y="435" width="1" height="25" fill="#000"/>
<rect x="268" y="438" width="5" height="17" fill="#000"/>
<rect x="269" y="439" width="3" height="15" fill="#fff"/>
<rect x="278" y="417" width="1" height="22" fill="#000"/>
<rect x="276" y="418" width="5" height="21" fill="#000"/>
<rect x="277" y="419" width="3" height="19" fill="#fff"/>
<rect x="286" y="418" width="1" height="26" fill="#000"/>
<rect x="284" y="421" width="5" height="17" fill="#000"/>
<rect x="294" y="405" width="1" height="45" fill="#000"/>
<rect x="292" y="419" width="5" height="19" fill="#000"/>
<rect x="293" y="420" width="3" height="17" fill="#fff"/>
<rect x="302" y="376" width="1" height="45" fill="#000"/>
<rect x="300" y="376" width="5" height="44" fill="#000"/>
<rect x="301" y="377" width="3" height="42" fill="#fff"/>
<rect x="310" y="351" width="1" height="32" fill="#000"/>
<rect x="308" y="366" width="5" height="11" fill="#000"/>
<rect x="309" y="367" width="3" height="9" fill="#fff"/>
<rect x="318" y="362" width="1" height="36" fill="#000"/>
<rect x="316" y="365" width="5" height="3" fill="#000"/>
<rect x="326" y="333" width="1" height="36" fill="#000"/>
<rect x="324" y="333" width="5" height="36" fill="#000"/>
<rect x="325" y="334" width="3" height="34" fill="#fff"/>
<rect x="334" y="318" width="1" height="25" fill="#000"/>
<rect x="332" y="321" width="5" height="18" fill="#000"/>
<rect x="333" y="322" width="3" height="16" fill="#fff"/>
<rect x="342" y="293" width="1" height="40" fill="#000"/>
<rect x="340" y="310" width="5" height="13" fill="#000"/>
<rect x="341" y="311" width="3" height="11" fill="#fff"/>
<rect x="350" y="285" width="1" height="34" fill="#000"/>
<rect x="348" y="305" width="5" height="6" fill="#000"/>
<rect x="349" y="306" width="3" height="4" fill="#fff"/>
<rect x="358" y="298" width="1" height="21" fill="#000"/>
<rect x="356" y="305" width="5" height="13" fill="#000"/>
<rect x="366" y="290" width="1" height="29" fill="#000"/>
<rect x="364" y="293" width="5" height="26" fill="#000"/>
<rect x="365" y="294" width="3" height="24" fill="#fff"/>
<rect x="374" y="284" width="1" height="18" fill="#000"/>
<rect x="372" y="292" width="5" height="8" fill="#000"/>
<rect x="382" y="299" width="1" height="11" fill="#000"/>
<rect x="380" y="302" width="5" height="6" fill="#000"/>
<rect x="390" y="282" width="1" height="27" fill="#000"/>
<rect x="388" y="292" width="5" height="11" fill="#000"/>
<rect x="389" y="293" width="3" height="9" fill="#fff"/>
<rect x="398" y="258" width="1" height="36" fill="#000"/>
<rect x="396" y="268" width="5" height="26" fill="#000"/>
<rect x="397" y="269" width="3" height="24" fill="#fff"/>
<rect x="406" y="236" width="1" height="42" fill="#000"/>
<rect x="404" y="243" width="5" height="27" fill="#000"/>
<rect x="405" y="244" width="3" height="25" fill="#fff"/>
<rect x="414" y="223" width="1" height="25" fill="#000"/>
<rect x="412" y="226" width="5" height="18" fill="#000"/>
<rect x="413" y="227" width="3" height="16" fill="#fff"/>
<rect x="422" y="215" width="1" height="13" fill="#000"/>
<rect x="420" y="221" width="5" height="7" fill="#000"/>
<rect x="421" y="222" width="3" height="5" fill="#fff"/>
<rect x="430" y="215" width="1" height="13" fill="#000"/>
<rect x="428" y="220" width="5" height="2" fill="#000"/>
<rect x="438" y="212" width="1" height="21" fill="#000"/>
<rect x="436" y="219" width="5" height="9" fill="#000"/>
<rect x="446" y="221" width="1" height="17" fill="#000"/>
<rect x="444" y="228" width="5" height="1" fill="#000"/>
<rect x="454" y="208" width="1" height="28" fill="#000"/>
<rect x="452" y="221" width="5" height="8" fill="#000"/>
<rect x="453" y="222" width="3" height="6" fill="#fff"/>
<rect x="462" y="209" width="1" height="28" fill="#000"/>
<rect x="460" y="220" width="5" height="3" fill="#000"/>
<rect x="461" y="221" width="3" height="1" fill="#fff"/>
<rect x="470" y="213" width="1" height="18" fill="#000"/>
<rect x="468" y="215" width="5" height="6" fill="#000"/>
<rect x="469" y="216" width="3" height="4" fill="#fff"/>
<rect x="478" y="216" width="1" height="19" fill="#000"/>
<rect x="476" y="217" width="5" height="18" fill="#000"/>
<rect x="486" y="217" width="1" height="25" fill="#000"/>
<rect x="484" y="226" width="5" height="12" fill="#000"/>
<rect x="485" y="227" width="3" height="10" fill="#fff"/>
<rect x="494" y="187" width="1" height="47" fill="#000"/>
<rect x="492" y="188" width="5" height="39" fill="#000"/>
<rect x="493" y="189" width="3" height="37" fill="#fff"/>
<rect x="502" y="169" width="1" height="25" fill="#000"/>
<rect x="500" y="172" width="5" height="16" fill="#000"/>
<rect x="501" y="173" width="3" height="14" fill="#fff"/>
<rect x="510" y="170" width="1" height="16" fill="#000"/>
<rect x="508" y="171" width="5" height="5" fill="#000"/>
<rect x="518" y="165" width="1" height="12" fill="#000"/>
<rect x="516" y="170" width="5" height="6" fill="#000"/>
<rect x="517" y="171" width="3" height="4" fill="#fff"/>
<rect x="526" y="167" width="1" height="8" fill="#000"/>
<rect x="524" y="169" width="5" height="1" fill="#000"/>
<rect x="534" y="122" width="1" height="51" fill="#000"/>
<rect x="532" y="137" width="5" height="35" fill="#000"/>
<rect x="533" y="138" width="3" height="33" fill="#fff"/>
<rect x="542" y="117" width="1" height="39" fill="#000"/>
<rect x="540" y="137" width="5" height="15" fill="#000"/>
<rect x="550" y="151" width="1" height="25" fill="#000"/>
<rect x="548" y="152" width="5" height="13" fill="#000"/>
<rect x="558" y="151" width="1" height="26" fill="#000"/>
<rect x="556" y="164" width="5" height="3" fill="#000"/>
<rect x="566" y="166" width="1" height="17" fill="#000"/>
<rect x="564" y="166" width="5" height="14" fill="#000"/>
<rect x="574" y="168" width="1" height="10" fill="#000"/>
<rect x="572" y="174" width="5" height="3" fill="#000"/>
<rect x="582" y="144" width="1" height="35" fill="#000"/>
<rect x="580" y="146" width="5" height="29" fill="#000"/>
<rect x="581" y="147" width="3" height="27" fill="#fff"/>
<rect x="590" y="109" width="1" height="41" fill="#000"/>
<rect x="588" y="122" width="5" height="24" fill="#000"/>
<rect x="589" y="123" width="3" height="22" fill="#fff"/>
<rect x="598" y="113" width="1" height="17" fill="#000"/>
<rect x="596" y="121" width="5" height="1" fill="#000"/>
<rect x="606" y="94" width="1" height="32" fill="#000"/>
<rect x="604" y="97" width="5" height="25" fill="#000"/>
<rect x="605" y="98" width="3" height="23" fill="#fff"/>
<rect x="614" y="84" width="1" height="19" fill="#000"/>
<rect x="612" y="84" width="5" height="14" fill="#000"/>
<rect x="613" y="85" width="3" height="12" fill="#fff"/>
<rect x="622" y="89" width="1" height="9" fill="#000"/>
<rect x="620" y="91" width="5" height="3" fill="#000"/>
<rect x="621" y="92" width="3" height="1" fill="#fff"/>
<rect x="630" y="87" width="1" height="52" fill="#000"/>
<rect x="628" y="91" width="5" height="38" fill="#000"/>
<rect x="638" y="108" width="1" height="23" fill="#000"/>
<rect x="636" y="112" width="5" height="17" fill="#000"/>
<rect x="637" y="113" width="3" height="15" fill="#fff"/>
<rect x="646" y="93" width="1" height="21" fill="#000"/>
<rect x="644" y="99" width="5" height="14" fill="#000"/>
<rect x="645" y="100" width="3" height="12" fill="#fff"/>
<rect x="654" y="96" width="1" height="36" fill="#000"/>
<rect x="652" y="98" width="5" height="2" fill="#000"/>
<rect x="662" y="95" width="1" height="17" fill="#000"/>
<rect x="660" y="96" width="5" height="3" fill="#000"/>
<rect x="661" y="97" width="3" height="1" fill="#fff"/>
<rect x="670" y="103" width="1" height="18" fill="#000"/>
<rect x="668" y="104" width="5" height="17" fill="#000"/>
<rect x="678" y="119" width="1" height="37" fill="#000"/>
<rect x="676" y="122" width="5" height="8" fill="#000"/>
<rect x="686" y="101" width="1" height="45" fill="#000"/>
<rect x="684" y="112" width="5" height="17" fill="#000"/>
<rect x="685" y="113" width="3" height="15" fill="#fff"/>
<rect x="694" y="106" width="1" height="21" fill="#000"/>
<rect x="692" y="111" width="5" height="8" fill="#000"/>
<rect x="702" y="113" width="1" height="26" fill="#000"/>
<rect x="700" y="114" width="5" height="4" fill="#000"/>
<rect x="701" y="115" width="3" height="2" fill="#fff"/>
<rect x="710" y="97" width="1" height="20" fill="#000"/>
<rect x="708" y="101" width="5" height="14" fill="#000"/>
<rect x="709" y="102" width="3" height="12" fill="#fff"/>
<rect x="718" y="98" width="1" height="18" fill="#000"/>
<rect x="716" y="103" width="5" height="11" fill="#000"/>
<rect x="726" y="102" width="1" height="26" fill="#000"/>
<rect x="724" y="112" width="5" height="9" fill="#000"/>
<rect x="734" y="80" width="1" height="42" fill="#000"/>
<rect x="732" y="83" width="5" height="39" fill="#000"/>
<rect x="733" y="84" width="3" height="37" fill="#fff"/>
<rect x="742" y="72" width="1" height="21" fill="#000"/>
<rect x="740" y="77" width="5" height="6" fill="#000"/>
<rect x="741" y="78" width="3" height="4" fill="#fff"/>
<rect x="750" y="64" width="1" height="25" fill="#000"/>
<rect x="748" y="66" width="5" height="12" fill="#000"/>
<rect x="749" y="67" width="3" height="10" fill="#fff"/>
<rect x="758" y="57" width="1" height="13" fill="#000"/>
<rect x="756" y="66" width="5" height="2" fill="#000"/>
<rect x="766" y="62" width="1" height="14" fill="#000"/>
<rect x="764" y="66" width="5" height="6" fill="#000"/>
<rect x="765" y="67" width="3" height="4" fill="#fff"/>
<rect x="774" y="66" width="1" height="67" fill="#000"/>
<rect x="772" y="69" width="5" height="55" fill="#000"/>
<rect x="782" y="98" width="1" height="39" fill="#000"/>
<rect x="780" y="112" width="5" height="13" fill="#000"/>
<rect x="781" y="113" width="3" height="11" fill="#fff"/>
<rect x="790" y="99" width="1" height="23" fill="#000"/>
<rect x="788" y="102" width="5" height="10" fill="#000"/>
<rect x="789" y="103" width="3" height="8" fill="#fff"/>
<rect x="798" y="102" width="1" height="27" fill="#000"/>
<rect x="796" y="102" width="5" height="27" fill="#000"/>
<rect x="806" y="122" width="1" height="22" fill="#000"/>
<rect x="804" y="122" width="5" height="7" fill="#000"/>
<rect x="805" y="123" width="3" height="5" fill="#fff"/>
<rect x="814" y="128" width="1" height="14" fill="#000"/>
<rect x="812" y="130" width="5" height="7" fill="#000"/>
<rect x="822" y="89" width="1" height="47" fill="#000"/>
<rect x="820" y="116" width="5" height="20" fill="#000"/>
<rect x="821" y="117" width="3" height="18" fill="#fff"/>
<rect x="830" y="105" width="1" height="28" fill="#000"/>
<rect x="828" y="116" width="5" height="6" fill="#000"/>
<rect x="838" y="122" width="1" height="15" fill="#000"/>
<rect x="836" y="122" width="5" height="8" fill="#000"/>
<rect x="846" y="124" width="1" height="24" fill="#000"/>
<rect x="844" y="129" width="5" height="17" fill="#000"/>
<rect x="854" y="134" width="1" height="28" fill="#000"/>
<rect x="852" y="145" width="5" height="12" fill="#000"/>
<rect x="862" y="145" width="1" height="11" fill="#000"/>
<rect x="860" y="153" width="5" height="1" fill="#000"/>
<rect x="870" y="133" width="1" height="45" fill="#000"/>
<rect x="868" y="138" width="5" height="14" fill="#000"/>
<rect x="869" y="139" width="3" height="12" fill="#fff"/>
<rect x="878" y="125" width="1" height="24" fill="#000"/>
<rect x="876" y="131" width="5" height="8" fill="#000"/>
<rect x="877" y="132" width="3" height="6" fill="#fff"/>
<rect x="886" y="118" width="1" height="17" fill="#000"/>
<rect x="884" y="124" width="5" height="9" fill="#000"/>
<rect x="885" y="125" width="3" height="7" fill="#fff"/>
<rect x="894" y="121" width="1" height="33" fill="#000"/>
<rect x="892" y="124" width="5" height="13" fill="#000"/>
<rect x="902" y="123" width="1" height="26" fill="#000"/>
<rect x="900" y="136" width="5" height="2" fill="#000"/>
<rect x="910" y="143" width="1" height="13" fill="#000"/>
<rect x="908" y="145" width="5" height="1" fill="#000"/>
<rect x="918" y="133" width="1" height="23" fill="#000"/>
<rect x="916" y="140" width="5" height="4" fill="#000"/>
<rect x="917" y="141" width="3" height="2" fill="#fff"/>
<rect x="926" y="128" width="1" height="19" fill="#000"/>
<rect x="924" y="134" width="5" height="7" fill="#000"/>
<rect x="925" y="135" width="3" height="5" fill="#fff"/>
<rect x="934" y="108" width="1" height="29" fill="#000"/>
<rect x="932" y="111" width="5" height="24" fill="#000"/>
<rect x="933" y="112" width="3" height="22" fill="#fff"/>
<rect x="942" y="101" width="1" height="12" fill="#000"/>
<rect x="940" y="101" width="5" height="12" fill="#000"/>
<rect x="941" y="102" width="3" height="10" fill="#fff"/>
<rect x="950" y="98" width="1" height="9" fill="#000"/>
<rect x="948" y="101" width="5" height="5" fill="#000"/>
<rect x="958" y="104" width="1" height="11" fill="#000"/>
<rect x="956" y="107" width="5" height="5" fill="#000"/>
<rect x="957" y="108" width="3" height="3" fill="#fff"/>
<rect x="966" y="105" width="1" height="40" fill="#000"/>
<rect x="964" y="108" width="5" height="27" fill="#000"/>
<rect x="974" y="116" width="1" height="23" fill="#000"/>
<rect x="972" y="133" width="5" height="2" fill="#000"/>
<rect x="982" y="132" width="1" height="29" fill="#000"/>
<rect x="980" y="133" width="5" height="16" fill="#000"/>
<rect x="990" y="146" width="1" height="19" fill="#000"/>
<rect x="988" y="149" width="5" height="7" fill="#000"/>
<rect x="998" y="155" width="1" height="18" fill="#000"/>
<rect x="996" y="156" width="5" height="6" fill="#000"/>
<rect x="1006" y="156" width="1" height="12" fill="#000"/>
<rect x="1004" y="159" width="5" height="7" fill="#000"/>
<rect x="1014" y="161" width="1" height="41" fill="#000"/>
<rect x="1012" y="164" width="5" height="30" fill="#000"/>
<rect x="1022" y="168" width="1" height="29" fill="#000"/>
<rect x="1020" y="191" width="5" height="6" fill="#000"/>
<rect x="1030" y="196" width="1" height="31" fill="#000"/>
<rect x="1028" y="196" width="5" height="21" fill="#000"/>
<rect x="1038" y="197" width="1" height="31" fill="#000"/>
<rect x="1036" y="205" width="5" height="12" fill="#000"/>
<rect x="1037" y="206" width="3" height="10" fill="#fff"/>
<rect x="1046" y="194" width="1" height="24" fill="#000"/>
<rect x="1044" y="205" width="5" height="8" fill="#000"/>
<rect x="1054" y="216" width="1" height="17" fill="#000"/>
<rect x="1052" y="217" width="5" height="15" fill="#000"/>
<rect x="1062" y="229" width="1" height="24" fill="#000"/>
<rect x="1060" y="232" width="5" height="14" fill="#000"/>
<rect x="1070" y="211" width="1" height="37" fill="#000"/>
<rect x="1068" y="212" width="5" height="34" fill="#000"/>
<rect x="1069" y="213" width="3" height="32" fill="#fff"/>
<rect x="1078" y="200" width="1" height="41" fill="#000"/>
<rect x="1076" y="214" width="5" height="22" fill="#000"/>
<rect x="1086" y="206" width="1" height="38" fill="#000"/>
<rect x="1084" y="209" width="5" height="26" fill="#000"/>
<rect x="1085" y="210" width="3" height="24" fill="#fff"/>
<rect x="1094" y="198" width="1" height="26" fill="#000"/>
<rect x="1092" y="208" width="5" height="12" fill="#000"/>
<rect x="1102" y="202" width="1" height="17" fill="#000"/>
<rect x="1100" y="209" width="5" height="8" fill="#000"/>
<rect x="1101" y="210" width="3" height="6" fill="#fff"/>
<rect x="1110" y="203" width="1" height="54" fill="#000"/>
<rect x="1108" y="210" width="5" height="29" fill="#000"/>
<rect x="1118" y="204" width="1" height="42" fill="#000"/>
<rect x="1116" y="213" width="5" height="25" fill="#000"/>
<rect x="1117" y="214" width="3" height="23" fill="#fff"/>
<rect x="1126" y="209" width="1" height="19" fill="#000"/>
<rect x="1124" y="211" width="5" height="3" fill="#000"/>
<rect x="1134" y="205" width="1" height="23" fill="#000"/>
<rect x="1132" y="211" width="5" height="9" fill="#000"/>
<rect x="1142" y="216" width="1" height="16" fill="#000"/>
<rect x="1140" y="218" width="5" height="10" fill="#000"/>
<rect x="1150" y="227" width="1" height="15" fill="#000"/>
<rect x="1148" y="227" width="5" height="15" fill="#000"/>
<rect x="1158" y="227" width="1" height="36" fill="#000"/>
<rect x="1156" y="241" width="5" height="19" fill="#000"/>
<rect x="1166" y="234" width="1" height="25" fill="#000"/>
<rect x="1164" y="235" width="5" height="23" fill="#000"/>
<rect x="1165" y="236" width="3" height="21" fill="#fff"/>
<rect x="1174" y="229" width="1" height="18" fill="#000"/>
<rect x="1172" y="235" width="5" height="8" fill="#000"/>
<rect x="1182" y="238" width="1" height="11" fill="#000"/>
<rect x="1180" y="240" width="5" height="3" fill="#000"/>
<rect x="1181" y="241" width="3" height="1" fill="#fff"/>
<rect x="1190" y="236" width="1" height="28" fill="#000"/>
<rect x="1188" y="240" width="5" height="23" fill="#000"/>
<rect x="1198" y="266" width="1" height="20" fill="#000"/>
<rect x="1196" y="266" width="5" height="15" fill="#000"/>
<rect x="1206" y="267" width="1" height="36" fill="#000"/>
<rect x="1204" y="279" width="5" height="24" fill="#000"/>
<rect x="1214" y="288" width="1" height="21" fill="#000"/>
<rect x="1212" y="288" width="5" height="15" fill="#000"/>
<rect x="1213" y="289" width="3" height="13" fill="#fff"/>
<rect x="1222" y="270" width="1" height="28" fill="#000"/>
<rect x="1220" y="289" width="5" height="5" fill="#000"/>
<rect x="1230" y="279" width="1" height="35" fill="#000"/>
<rect x="1228" y="293" width="5" height="16" fill="#000"/>
<rect x="1238" y="306" width="1" height="15" fill="#000"/>
<rect x="1236" y="308" width="5" height="3" fill="#000"/>
<rect x="1246" y="294" width="1" height="16" fill="#000"/>
<rect x="1244" y="300" width="5" height="7" fill="#000"/>
<rect x="1245" y="301" width="3" height="5" fill="#fff"/>
<rect x="1254" y="250" width="1" height="54" fill="#000"/>
<rect x="1252" y="252" width="5" height="49" fill="#000"/>
<rect x="1253" y="253" width="3" height="47" fill="#fff"/>
<rect x="1262" y="238" width="1" height="25" fill="#000"/>
<rect x="1260" y="252" width="5" height="6" fill="#000"/>
<rect x="1270" y="245" width="1" height="26" fill="#000"/>
<rect x="1268" y="246" width="5" height="11" fill="#000"/>
<rect x="1269" y="247" width="3" height="9" fill="#fff"/>
<rect x="1278" y="236" width="1" height="15" fill="#000"/>
<rect x="1276" y="237" width="5" height="12" fill="#000"/>
<rect x="1277" y="238" width="3" height="10" fill="#fff"/>
<rect x="1286" y="227" width="1" height="14" fill="#000"/>
<rect x="1284" y="233" width="5" height="5" fill="#000"/>
<rect x="1285" y="234" width="3" height="3" fill="#fff"/>
<rect x="1294" y="237" width="1" height="8" fill="#000"/>
<rect x="1292" y="237" width="5" height="1" fill="#000"/>
<rect x="1302" y="200" width="1" height="41" fill="#000"/>
<rect x="1300" y="208" width="5" height="29" fill="#000"/>
<rect x="1301" y="209" width="3" height="27" fill="#fff"/>
<rect x="1310" y="200" width="1" height="13" fill="#000"/>
<rect x="1308" y="208" width="5" height="3" fill="#000"/>
<rect x="1318" y="202" width="1" height="16" fill="#000"/>
<rect x="1316" y="207" width="5" height="8" fill="#000"/>
<rect x="1326" y="207" width="1" height="26" fill="#000"/>
<rect x="1324" y="214" width="5" height="18" fill="#000"/>
<rect x="1334" y="227" width="1" height="11" fill="#000"/>
<rect x="1332" y="231" width="5" height="6" fill="#000"/>
<rect x="1342" y="238" width="1" height="10" fill="#000"/>
<rect x="1340" y="243" width="5" height="4" fill="#000"/>
<rect x="1350" y="199" width="1" height="56" fill="#000"/>
<rect x="1348" y="211" width="5" height="36" fill="#000"/>
<rect x="1349" y="212" width="3" height="34" fill="#fff"/>
<rect x="1358" y="206" width="1" height="16" fill="#000"/>
<rect x="1356" y="212" width="5" height="2" fill="#000"/>
<rect x="1366" y="211" width="1" height="6" fill="#000"/>
<rect x="1364" y="211" width="5" height="5" fill="#000"/>
<rect x="1374" y="211" width="1" height="12" fill="#000"/>
<rect x="1372" y="213" width="5" height="10" fill="#000"/>
<rect x="1382" y="221" width="1" height="25" fill="#000"/>
<rect x="1380" y="222" width="5" height="2" fill="#000"/>
</g>
<rect x="733" y="50" width="10" height="1" fill="#ff0000"/>
<rect x="742" y="50" width="1" height="28" fill="#000"/>
<rect x="671.5" y="41.5" width="61" height="18" fill="#fff" stroke="#ff0000" stroke-width="1"/>
<text x="673.6" y="57" font-size="16" fill="#ff0000" textLength="57.6" lengthAdjust="spacingAndGlyphs">28395.5</text>
<rect x="1309" y="187" width="10" height="1" fill="#ff0000"/>
<rect x="1318" y="187" width="1" height="22" fill="#000"/>
<rect x="1247.5" y="178.5" width="61" height="18" fill="#fff" stroke="#ff0000" stroke-width="1"/>
<text x="1249.6" y="194" font-size="16" fill="#ff0000" textLength="57.6" lengthAdjust="spacingAndGlyphs">27302.0</text>
<rect x="1261" y="222" width="10" height="1" fill="#ff0000"/>
<rect x="1199.5" y="213.5" width="61" height="18" fill="#fff" stroke="#ff0000" stroke-width="1"/>
<text x="1201.6" y="229" font-size="16" fill="#ff0000" textLength="57.6" lengthAdjust="spacingAndGlyphs">27022.6</text>
<rect x="1205" y="322" width="10" height="1" fill="#ff0000"/>
<rect x="1214" y="303" width="1" height="20" fill="#000"/>
<rect x="1143.5" y="313.5" width="61" height="18" fill="#fff" stroke="#ff0000" stroke-width="1"/>
<text x="1145.6" y="329" font-size="16" fill="#ff0000" textLength="57.6" lengthAdjust="spacingAndGlyphs">26224.4</text>
<line x1="1208.0" y1="306.0" x2="1297.2" y2="212.1" stroke="#ff0000" stroke-width="3" stroke-linecap="round"/>
<polygon points="1302.0,207.0 1299.1,216.6 1292.5,210.4" fill="#ff0000"/>
<line x1="1302.0" y1="207.0" x2="1339.5" y2="244.1" stroke="#ff0000" stroke-width="3" stroke-linecap="round"/>
<polygon points="1344.5,249.0 1334.9,245.9 1341.3,239.5" fill="#ff0000"/>
<line x1="1344.5" y1="249.0" x2="1355.6" y2="209.2" stroke="#ff0000" stroke-width="3" stroke-linecap="round"/>
<polygon points="1357.5,202.5 1359.4,212.4 1350.7,210.0" fill="#ff0000"/>
<line x1="1357.5" y1="202.5" x2="1377.8" y2="232.7" stroke="#ff0000" stroke-width="3" stroke-linecap="round"/>
<polygon points="1381.7,238.5 1372.9,233.5 1380.4,228.5" fill="#ff0000"/>
<line x1="1381.7" y1="238.5" x2="1418.1" y2="202.0" stroke="#ff0000" stroke-width="3" stroke-linecap="round"/>
<polygon points="1423.0,197.0 1419.8,206.6 1413.5,200.2" fill="#ff0000"/>
<rect x="1650" y="45" width="2" height="1" fill="#000"/>
<text x="1655" y="49" font-size="10.0" fill="#000" textLength="33.0" lengthAdjust="spacingAndGlyphs">28442.0</text>
<rect x="1650" y="78" width="2" height="1" fill="#000"/>
<text x="1655" y="82" font-size="10.0" fill="#000" textLength="33.0" lengthAdjust="spacingAndGlyphs">28172.0</text>
<rect x="1650" y="111" width="2" height="1" fill="#000"/>
<text x="1655" y="115" font-size="10.0" fill="#000" textLength="33.0" lengthAdjust="spacingAndGlyphs">27909.5</text>
<rect x="1650" y="144" width="2" height="1" fill="#000"/>
<text x="1655" y="148" font-size="10.0" fill="#000" textLength="33.0" lengthAdjust="spacingAndGlyphs">27647.0</text>
<rect x="1650" y="177" width="2" height="1" fill="#000"/>
<text x="1655" y="181" font-size="10.0" fill="#000" textLength="33.0" lengthAdjust="spacingAndGlyphs">27384.5</text>
<rect x="1650" y="210" width="2" height="1" fill="#000"/>
<text x="1655" y="214" font-size="10.0" fill="#000" textLength="33.0" lengthAdjust="spacingAndGlyphs">27122.0</text>
<rect x="1650" y="243" width="2" height="1" fill="#000"/>
<text x="1655" y="247" font-size="10.0" fill="#000" textLength="33.0" lengthAdjust="spacingAndGlyphs">26859.5</text>
<rect x="1650" y="276" width="2" height="1" fill="#000"/>
<text x="1655" y="280" font-size="10.0" fill="#000" textLength="33.0" lengthAdjust="spacingAndGlyphs">26589.5</text>
<rect x="1650" y="309" width="2" height="1" fill="#000"/>
<text x="1655" y="313" font-size="10.0" fill="#000" textLength="33.0" lengthAdjust="spacingAndGlyphs">26327.0</text>
<rect x="1650" y="342" width="2" height="1" fill="#000"/>
<text x="1655" y="346" font-size="10.0" fill="#000" textLength="33.0" lengthAdjust="spacingAndGlyphs">26064.5</text>
<rect x="1650" y="375" width="2" height="1" fill="#000"/>
<text x="1655" y="379" font-size="10.0" fill="#000" textLength="33.0" lengthAdjust="spacingAndGlyphs">25802.0</text>
<rect x="1650" y="408" width="2" height="1" fill="#000"/>
<text x="1655" y="412" font-size="10.0" fill="#000" textLength="33.0" lengthAdjust="spacingAndGlyphs">25539.5</text>
<rect x="1650" y="441" width="2" height="1" fill="#000"/>
<text x="1655" y="445" font-size="10.0" fill="#000" textLength="33.0" lengthAdjust="spacingAndGlyphs">25269.5</text>
<rect x="1650" y="474" width="2" height="1" fill="#000"/>
<text x="1655" y="478" font-size="10.0" fill="#000" textLength="33.0" lengthAdjust="spacingAndGlyphs">25007.0</text>
<rect x="1650" y="507" width="2" height="1" fill="#000"/>
<text x="1655" y="511" font-size="10.0" fill="#000" textLength="33.0" lengthAdjust="spacingAndGlyphs">24744.5</text>
<rect x="1650" y="540" width="2" height="1" fill="#000"/>
<text x="1655" y="544" font-size="10.0" fill="#000" textLength="33.0" lengthAdjust="spacingAndGlyphs">24482.0</text>
<rect x="1650" y="573" width="2" height="1" fill="#000"/>
<text x="1655" y="577" font-size="10.0" fill="#000" textLength="33.0" lengthAdjust="spacingAndGlyphs">24219.5</text>
<rect x="1651" y="153" width="41" height="11" fill="#ff0000"/>
<text x="1655" y="162" font-size="10.0" fill="#fff" textLength="33.0" lengthAdjust="spacingAndGlyphs">27525.4</text>
<rect x="1651" y="185" width="41" height="11" fill="#ff0000"/>
<text x="1655" y="194" font-size="10.0" fill="#fff" textLength="33.0" lengthAdjust="spacingAndGlyphs">27270.0</text>
<rect x="1651" y="227" width="41" height="1" fill="#000"/>
<rect x="1651" y="216" width="41" height="11" fill="#32cd32"/>
<text x="1655" y="225" font-size="10.0" fill="#fff" textLength="33.0" lengthAdjust="spacingAndGlyphs">27022.6</text>
<rect x="1651" y="241" width="41" height="11" fill="#0000ff"/>
<text x="1655" y="250" font-size="10.0" fill="#fff" textLength="33.0" lengthAdjust="spacingAndGlyphs">26823.0</text>
<rect x="1651" y="264" width="41" height="11" fill="#0000ff"/>
<text x="1655" y="273" font-size="10.0" fill="#fff" textLength="33.0" lengthAdjust="spacingAndGlyphs">26639.5</text>
<rect x="1644.5" y="245.5" width="4" height="4" fill="#fff" stroke="#0000ff" stroke-width="1"/>
<polygon points="1394,24 1403,24 1398.5,29" fill="#c0c0c0" shape-rendering="crispEdges"/>
<g shape-rendering="crispEdges">
<rect x="6" y="659" width="1" height="69" fill="#c0c0c0"/>
<rect x="14" y="659" width="1" height="74" fill="#c0c0c0"/>
<rect x="22" y="659" width="1" height="78" fill="#c0c0c0"/>
<rect x="30" y="659" width="1" height="80" fill="#c0c0c0"/>
<rect x="38" y="659" width="1" height="82" fill="#c0c0c0"/>
<rect x="46" y="659" width="1" height="81" fill="#c0c0c0"/>
<rect x="54" y="659" width="1" height="78" fill="#c0c0c0"/>
<rect x="62" y="659" width="1" height="74" fill="#c0c0c0"/>
<rect x="70" y="659" width="1" height="70" fill="#c0c0c0"/>
<rect x="78" y="659" width="1" height="61" fill="#c0c0c0"/>
<rect x="86" y="659" width="1" height="53" fill="#c0c0c0"/>
<rect x="94" y="659" width="1" height="46" fill="#c0c0c0"/>
<rect x="102" y="659" width="1" height="36" fill="#c0c0c0"/>
<rect x="110" y="659" width="1" height="32" fill="#c0c0c0"/>
<rect x="118" y="659" width="1" height="28" fill="#c0c0c0"/>
<rect x="126" y="659" width="1" height="27" fill="#c0c0c0"/>
<rect x="134" y="659" width="1" height="26" fill="#c0c0c0"/>
<rect x="142" y="659" width="1" height="23" fill="#c0c0c0"/>
<rect x="150" y="659" width="1" height="24" fill="#c0c0c0"/>
<rect x="158" y="659" width="1" height="22" fill="#c0c0c0"/>
<rect x="166" y="659" width="1" height="20" fill="#c0c0c0"/>
<rect x="174" y="659" width="1" height="19" fill="#c0c0c0"/>
<rect x="182" y="659" width="1" height="18" fill="#c0c0c0"/>
<rect x="190" y="659" width="1" height="16" fill="#c0c0c0"/>
<rect x="198" y="659" width="1" height="14" fill="#c0c0c0"/>
<rect x="206" y="659" width="1" height="12" fill="#c0c0c0"/>
<rect x="214" y="659" width="1" height="9" fill="#c0c0c0"/>
<rect x="222" y="659" width="1" height="10" fill="#c0c0c0"/>
<rect x="230" y="659" width="1" height="10" fill="#c0c0c0"/>
<rect x="238" y="659" width="1" height="10" fill="#c0c0c0"/>
<rect x="246" y="659" width="1" height="8" fill="#c0c0c0"/>
<rect x="254" y="659" width="1" height="8" fill="#c0c0c0"/>
<rect x="262" y="659" width="1" height="7" fill="#c0c0c0"/>
<rect x="270" y="659" width="1" height="3" fill="#c0c0c0"/>
<rect x="278" y="659" width="1" height="1" fill="#c0c0c0"/>
<rect x="286" y="658" width="1" height="2" fill="#c0c0c0"/>
<rect x="294" y="654" width="1" height="6" fill="#c0c0c0"/>
<rect x="302" y="645" width="1" height="15" fill="#c0c0c0"/>
<rect x="310" y="639" width="1" height="21" fill="#c0c0c0"/>
<rect x="318" y="634" width="1" height="26" fill="#c0c0c0"/>
<rect x="326" y="627" width="1" height="33" fill="#c0c0c0"/>
<rect x="334" y="621" width="1" height="39" fill="#c0c0c0"/>
<rect x="342" y="615" width="1" height="45" fill="#c0c0c0"/>
<rect x="350" y="610" width="1" height="50" fill="#c0c0c0"/>
<rect x="358" y="608" width="1" height="52" fill="#c0c0c0"/>
<rect x="366" y="605" width="1" height="55" fill="#c0c0c0"/>
<rect x="374" y="604" width="1" height="56" fill="#c0c0c0"/>
<rect x="382" y="604" width="1" height="56" fill="#c0c0c0"/>
<rect x="390" y="604" width="1" height="56" fill="#c0c0c0"/>
<rect x="398" y="600" width="1" height="60" fill="#c0c0c0"/>
<rect x="406" y="597" width="1" height="63" fill="#c0c0c0"/>
<rect x="414" y="593" width="1" height="67" fill="#c0c0c0"/>
<rect x="422" y="590" width="1" height="70" fill="#c0c0c0"/>
<rect x="430" y="588" width="1" height="72" fill="#c0c0c0"/>
<rect x="438" y="588" width="1" height="72" fill="#c0c0c0"/>
<rect x="446" y="590" width="1" height="70" fill="#c0c0c0"/>
<rect x="454" y="590" width="1" height="70" fill="#c0c0c0"/>
<rect x="462" y="592" width="1" height="68" fill="#c0c0c0"/>
<rect x="470" y="593" width="1" height="67" fill="#c0c0c0"/>
<rect x="478" y="597" width="1" height="63" fill="#c0c0c0"/>
<rect x="486" y="600" width="1" height="60" fill="#c0c0c0"/>
<rect x="494" y="599" width="1" height="61" fill="#c0c0c0"/>
<rect x="502" y="597" width="1" height="63" fill="#c0c0c0"/>
<rect x="510" y="596" width="1" height="64" fill="#c0c0c0"/>
<rect x="518" y="596" width="1" height="64" fill="#c0c0c0"/>
<rect x="526" y="597" width="1" height="63" fill="#c0c0c0"/>
<rect x="534" y="594" width="1" height="66" fill="#c0c0c0"/>
<rect x="542" y="595" width="1" height="65" fill="#c0c0c0"/>
<rect x="550" y="597" width="1" height="63" fill="#c0c0c0"/>
<rect x="558" y="600" width="1" height="60" fill="#c0c0c0"/>
<rect x="566" y="604" width="1" height="56" fill="#c0c0c0"/>
<rect x="574" y="608" width="1" height="52" fill="#c0c0c0"/>
<rect x="582" y="608" width="1" height="52" fill="#c0c0c0"/>
<rect x="590" y="606" width="1" height="54" fill="#c0c0c0"/>
<rect x="598" y="606" width="1" height="54" fill="#c0c0c0"/>
<rect x="606" y="603" width="1" height="57" fill="#c0c0c0"/>
<rect x="614" y="600" width="1" height="60" fill="#c0c0c0"/>
<rect x="622" y="599" width="1" height="61" fill="#c0c0c0"/>
<rect x="630" y="603" width="1" height="57" fill="#c0c0c0"/>
<rect x="638" y="605" width="1" height="55" fill="#c0c0c0"/>
<rect x="646" y="606" width="1" height="54" fill="#c0c0c0"/>
<rect x="654" y="607" width="1" height="53" fill="#c0c0c0"/>
<rect x="662" y="609" width="1" height="51" fill="#c0c0c0"/>
<rect x="670" y="613" width="1" height="47" fill="#c0c0c0"/>
<rect x="678" y="618" width="1" height="42" fill="#c0c0c0"/>
<rect x="686" y="620" width="1" height="40" fill="#c0c0c0"/>
<rect x="694" y="623" width="1" height="37" fill="#c0c0c0"/>
<rect x="702" y="626" width="1" height="34" fill="#c0c0c0"/>
<rect x="710" y="626" width="1" height="34" fill="#c0c0c0"/>
<rect x="718" y="629" width="1" height="31" fill="#c0c0c0"/>
<rect x="726" y="632" width="1" height="28" fill="#c0c0c0"/>
<rect x="734" y="630" width="1" height="30" fill="#c0c0c0"/>
<rect x="742" y="629" width="1" height="31" fill="#c0c0c0"/>
<rect x="750" y="627" width="1" height="33" fill="#c0c0c0"/>
<rect x="758" y="627" width="1" height="33" fill="#c0c0c0"/>
<rect x="766" y="625" width="1" height="35" fill="#c0c0c0"/>
<rect x="774" y="632" width="1" height="28" fill="#c0c0c0"/>
<rect x="782" y="636" width="1" height="24" fill="#c0c0c0"/>
<rect x="790" y="638" width="1" height="22" fill="#c0c0c0"/>
<rect x="798" y="643" width="1" height="17" fill="#c0c0c0"/>
<rect x="806" y="646" width="1" height="14" fill="#c0c0c0"/>
<rect x="814" y="651" width="1" height="9" fill="#c0c0c0"/>
<rect x="822" y="652" width="1" height="8" fill="#c0c0c0"/>
<rect x="830" y="654" width="1" height="6" fill="#c0c0c0"/>
<rect x="838" y="656" width="1" height="4" fill="#c0c0c0"/>
<rect x="846" y="658" width="1" height="2" fill="#c0c0c0"/>
<rect x="854" y="659" width="1" height="4" fill="#c0c0c0"/>
<rect x="862" y="659" width="1" height="6" fill="#c0c0c0"/>
<rect x="870" y="659" width="1" height="8" fill="#c0c0c0"/>
<rect x="878" y="659" width="1" height="6" fill="#c0c0c0"/>
<rect x="886" y="659" width="1" height="5" fill="#c0c0c0"/>
<rect x="894" y="659" width="1" height="5" fill="#c0c0c0"/>
<rect x="902" y="659" width="1" height="6" fill="#c0c0c0"/>
<rect x="910" y="659" width="1" height="6" fill="#c0c0c0"/>
<rect x="918" y="659" width="1" height="7" fill="#c0c0c0"/>
<rect x="926" y="659" width="1" height="6" fill="#c0c0c0"/>
<rect x="934" y="659" width="1" height="4" fill="#c0c0c0"/>
<rect x="942" y="659" width="1" height="1" fill="#c0c0c0"/>
<rect x="950" y="657" width="1" height="3" fill="#c0c0c0"/>
<rect x="958" y="656" width="1" height="4" fill="#c0c0c0"/>
<rect x="966" y="658" width="1" height="2" fill="#c0c0c0"/>
<rect x="974" y="659" width="1" height="1" fill="#c0c0c0"/>
<rect x="982" y="659" width="1" height="2" fill="#c0c0c0"/>
<rect x="990" y="659" width="1" height="5" fill="#c0c0c0"/>
<rect x="998" y="659" width="1" height="8" fill="#c0c0c0"/>
<rect x="1006" y="659" width="1" height="11" fill="#c0c0c0"/>
<rect x="1014" y="659" width="1" height="15" fill="#c0c0c0"/>
<rect x="1022" y="659" width="1" height="20" fill="#c0c0c0"/>
<rect x="1030" y="659" width="1" height="24" fill="#c0c0c0"/>
<rect x="1038" y="659" width="1" height="26" fill="#c0c0c0"/>
<rect x="1046" y="659" width="1" height="30" fill="#c0c0c0"/>
<rect x="1054" y="659" width="1" height="33" fill="#c0c0c0"/>
<rect x="1062" y="659" width="1" height="36" fill="#c0c0c0"/>
<rect x="1070" y="659" width="1" height="36" fill="#c0c0c0"/>
<rect x="1078" y="659" width="1" height="38" fill="#c0c0c0"/>
<rect x="1086" y="659" width="1" height="36" fill="#c0c0c0"/>
<rect x="1094" y="659" width="1" height="34" fill="#c0c0c0"/>
<rect x="1102" y="659" width="1" height="33" fill="#c0c0c0"/>
<rect x="1110" y="659" width="1" height="34" fill="#c0c0c0"/>
<rect x="1118" y="659" width="1" height="32" fill="#c0c0c0"/>
<rect x="1126" y="659" width="1" height="28" fill="#c0c0c0"/>
<rect x="1134" y="659" width="1" height="28" fill="#c0c0c0"/>
<rect x="1142" y="659" width="1" height="28" fill="#c0c0c0"/>
<rect x="1150" y="659" width="1" height="28" fill="#c0c0c0"/>
<rect x="1158" y="659" width="1" height="30" fill="#c0c0c0"/>
<rect x="1166" y="659" width="1" height="31" fill="#c0c0c0"/>
<rect x="1174" y="659" width="1" height="29" fill="#c0c0c0"/>
<rect x="1182" y="659" width="1" height="28" fill="#c0c0c0"/>
<rect x="1190" y="659" width="1" height="28" fill="#c0c0c0"/>
<rect x="1198" y="659" width="1" height="32" fill="#c0c0c0"/>
<rect x="1206" y="659" width="1" height="35" fill="#c0c0c0"/>
<rect x="1214" y="659" width="1" height="38" fill="#c0c0c0"/>
<rect x="1222" y="659" width="1" height="39" fill="#c0c0c0"/>
<rect x="1230" y="659" width="1" height="41" fill="#c0c0c0"/>
<rect x="1238" y="659" width="1" height="42" fill="#c0c0c0"/>
<rect x="1246" y="659" width="1" height="42" fill="#c0c0c0"/>
<rect x="1254" y="659" width="1" height="36" fill="#c0c0c0"/>
<rect x="1262" y="659" width="1" height="32" fill="#c0c0c0"/>
<rect x="1270" y="659" width="1" height="26" fill="#c0c0c0"/>
<rect x="1278" y="659" width="1" height="21" fill="#c0c0c0"/>
<rect x="1286" y="659" width="1" height="16" fill="#c0c0c0"/>
<rect x="1294" y="659" width="1" height="13" fill="#c0c0c0"/>
<rect x="1302" y="659" width="1" height="8" fill="#c0c0c0"/>
<rect x="1310" y="659" width="1" height="1" fill="#c0c0c0"/>
<rect x="1318" y="659" width="1" height="1" fill="#c0c0c0"/>
<rect x="1326" y="658" width="1" height="2" fill="#c0c0c0"/>
<rect x="1334" y="658" width="1" height="2" fill="#c0c0c0"/>
<rect x="1342" y="658" width="1" height="2" fill="#c0c0c0"/>
<rect x="1350" y="656" width="1" height="4" fill="#c0c0c0"/>
<rect x="1358" y="654" width="1" height="6" fill="#c0c0c0"/>
<rect x="1366" y="653" width="1" height="7" fill="#c0c0c0"/>
<rect x="1374" y="653" width="1" height="7" fill="#c0c0c0"/>
<rect x="1382" y="653" width="1" height="7" fill="#c0c0c0"/>
</g>
<path d="M466 590.5h1M470 590.5h3M476 590.5h3M458 591.5h3M464 591.5h2M482 591.5h3M488 591.5h2M452 592.5h3M490 592.5h1M494 592.5h3M448 593.5h1M500 593.5h3M442 594.5h1M446 594.5h2M506 594.5h3M512 594.5h2M434 595.5h3M440 595.5h2M514 595.5h1M518 595.5h3M524 595.5h3M429 596.5h2M530 596.5h3M536 596.5h3M542 596.5h3M548 596.5h3M554 596.5h3M560 596.5h3M566 596.5h2M428 597.5h1M568 597.5h1M572 598.5h3M423 599.5h2M578 599.5h3M584 599.5h2M418 600.5h1M422 600.5h1M586 600.5h1M590 600.5h3M416 601.5h2M596 601.5h3M410 602.5h3M602 602.5h3M608 602.5h2M610 603.5h1M614 603.5h3M620 603.5h3M626 603.5h3M632 603.5h3M638 603.5h3M644 603.5h3M650 603.5h3M656 603.5h3M662 603.5h3M405 604.5h2M668 604.5h3M404 605.5h1M674 605.5h3M400 606.5h1M680 606.5h2M398 607.5h2M682 607.5h1M686 608.5h2M393 609.5h2M688 609.5h1M392 610.5h1M692 610.5h1M388 611.5h1M693 611.5h2M386 612.5h2M698 612.5h2M381 613.5h2M700 613.5h1M380 614.5h1M704 614.5h3M376 615.5h1M710 615.5h2M374 616.5h2M712 616.5h1M716 617.5h1M717 618.5h2M370 619.5h1M368 620.5h2M722 620.5h3M728 622.5h3M364 623.5h1M734 623.5h2M363 624.5h1M736 624.5h1M362 625.5h1M740 625.5h3M746 626.5h3M752 626.5h3M758 626.5h3M764 627.5h3M770 627.5h3M776 627.5h2M357 628.5h2M778 628.5h1M782 628.5h3M356 629.5h1M788 629.5h3M794 630.5h3M351 631.5h2M800 631.5h3M350 632.5h1M806 632.5h2M808 633.5h1M812 634.5h1M346 635.5h1M813 635.5h2M344 636.5h2M818 637.5h3M340 639.5h1M824 639.5h2M338 640.5h2M826 640.5h1M830 641.5h2M832 642.5h1M334 643.5h1M836 643.5h1M332 644.5h2M837 644.5h2M842 645.5h2M844 646.5h1M327 647.5h2M848 647.5h1M326 648.5h1M849 648.5h2M854 650.5h2M322 651.5h1M856 651.5h1M320 652.5h2M860 652.5h1M861 653.5h2M316 654.5h1M314 655.5h2M866 655.5h3M309 656.5h2M1370 656.5h3M1376 656.5h3M1382 656.5h1M308 657.5h1M872 657.5h3M1364 657.5h3M878 658.5h2M1360 658.5h1M303 659.5h2M880 659.5h1M1358 659.5h2M302 660.5h1M884 660.5h3M970 660.5h1M974 660.5h3M980 660.5h3M986 660.5h3M992 660.5h3M998 660.5h3M1352 660.5h3M296 661.5h3M890 661.5h3M962 661.5h3M968 661.5h2M1004 661.5h3M1348 661.5h1M292 662.5h1M896 662.5h3M956 662.5h3M1010 662.5h2M1346 662.5h2M290 663.5h2M902 663.5h3M946 663.5h1M950 663.5h3M1012 663.5h1M1016 663.5h2M1341 663.5h2M284 664.5h3M908 664.5h3M938 664.5h3M944 664.5h2M1018 664.5h1M1022 664.5h1M1340 664.5h1M274 665.5h1M278 665.5h3M914 665.5h3M920 665.5h3M926 665.5h3M932 665.5h3M1023 665.5h2M268 666.5h1M272 666.5h2M1335 666.5h2M266 667.5h2M1028 667.5h1M1334 667.5h1M260 668.5h3M1029 668.5h2M250 669.5h1M254 669.5h3M1329 669.5h2M242 670.5h3M248 670.5h2M1034 670.5h3M1328 670.5h1M236 671.5h3M226 672.5h1M230 672.5h3M1040 672.5h3M1323 672.5h2M220 673.5h1M224 673.5h2M1046 673.5h1M1322 673.5h1M218 674.5h2M1047 674.5h2M212 675.5h3M1318 675.5h1M208 676.5h1M1316 676.5h2M202 677.5h1M206 677.5h2M1052 677.5h2M196 678.5h1M200 678.5h2M1054 678.5h1M194 679.5h2M1311 679.5h2M188 680.5h3M1058 680.5h3M1310 680.5h1M178 681.5h1M182 681.5h3M1306 681.5h1M172 682.5h1M176 682.5h2M1064 682.5h3M1304 682.5h2M170 683.5h2M1070 683.5h1M165 684.5h2M1071 684.5h2M1299 684.5h2M164 685.5h1M1298 685.5h1M1076 686.5h1M159 687.5h2M1077 687.5h2M1178 687.5h3M1184 687.5h3M1190 687.5h3M1196 687.5h3M1293 687.5h2M158 688.5h1M1162 688.5h1M1166 688.5h3M1172 688.5h3M1202 688.5h3M1208 688.5h2M1292 688.5h1M154 689.5h1M1082 689.5h3M1148 689.5h3M1154 689.5h3M1160 689.5h2M1210 689.5h1M1214 689.5h2M152 690.5h2M1088 690.5h2M1138 690.5h1M1142 690.5h3M1216 690.5h1M1287 690.5h2M1090 691.5h1M1094 691.5h3M1132 691.5h1M1136 691.5h2M1220 691.5h3M1282 691.5h1M1286 691.5h1M147 692.5h2M1100 692.5h3M1130 692.5h2M1226 692.5h3M1232 692.5h2M1280 692.5h2M146 693.5h1M1106 693.5h3M1112 693.5h3M1118 693.5h3M1124 693.5h3M1234 693.5h1M1238 693.5h2M1274 693.5h3M1240 694.5h1M142 695.5h1M1244 695.5h3M1250 695.5h3M1256 695.5h2M1268 695.5h3M140 696.5h2M1258 696.5h1M1262 696.5h3M135 699.5h2M134 700.5h1M130 702.5h1M129 703.5h1M128 704.5h1M124 706.5h1M122 707.5h2M2 710.5h1M118 710.5h1M3 711.5h2M116 711.5h2M8 714.5h2M112 714.5h1M10 715.5h1M111 715.5h1M110 716.5h1M14 717.5h1M15 718.5h2M106 719.5h1M20 720.5h1M105 720.5h1M21 721.5h2M104 721.5h1M26 723.5h1M27 724.5h2M100 724.5h1M98 725.5h2M32 726.5h2M34 727.5h1M38 728.5h1M93 728.5h2M39 729.5h2M92 729.5h1M88 730.5h1M44 731.5h1M86 731.5h2M45 732.5h2M82 732.5h1M50 733.5h3M56 733.5h2M80 733.5h2M58 734.5h1M62 734.5h3M74 734.5h3M68 735.5h3" stroke="#ff0000" fill="none" shape-rendering="crispEdges"/>
<line x1="1301.0" y1="666.3" x2="1401.0" y2="655.2" stroke="#ff0000" stroke-width="3" stroke-linecap="round"/>
<polygon points="1407.0,654.5 1399.5,659.6 1398.6,651.2" fill="#ff0000"/>
<rect x="1650" y="580" width="1" height="1" fill="#000"/>
<rect x="1650" y="747" width="1" height="1" fill="#000"/>
<rect x="1650" y="659" width="2" height="1" fill="#000"/>
<text x="1653" y="589" font-size="10.0" fill="#000" textLength="27.8" lengthAdjust="spacingAndGlyphs">469.42</text>
<text x="1653" y="663" font-size="10.0" fill="#000" textLength="17.5" lengthAdjust="spacingAndGlyphs">0.00</text>
<text x="1653" y="745" font-size="10.0" fill="#000" textLength="25.6" lengthAdjust="spacingAndGlyphs">-519.1</text>
<line x1="3" y1="786.5" x2="1649" y2="786.5" stroke="#bdbdbd" stroke-width="1" stroke-dasharray="3,3" shape-rendering="crispEdges"/>
<rect x="1650" y="786" width="2" height="1" fill="#000"/>
<line x1="3" y1="837.5" x2="1649" y2="837.5" stroke="#bdbdbd" stroke-width="1" stroke-dasharray="3,3" shape-rendering="crispEdges"/>
<rect x="1650" y="837" width="2" height="1" fill="#000"/>
<line x1="3" y1="898.5" x2="1649" y2="898.5" stroke="#bdbdbd" stroke-width="1" stroke-dasharray="3,3" shape-rendering="crispEdges"/>
<rect x="1650" y="898" width="2" height="1" fill="#000"/>
<path d="M534 784.5h1M533 785.5h1M535 785.5h1M532 786.5h1M536.5 786v2M530 787.5h2M529 788.5h1M537 788.5h1M613 788.5h2M418 789.5h13M528 789.5h1M538 789.5h1M610 789.5h3M615 789.5h2M413 790.5h5M431 790.5h2M501 790.5h3M527 790.5h1M539 790.5h1M608 790.5h2M617 790.5h1M410 791.5h3M433 791.5h1M468 791.5h3M499 791.5h2M504 791.5h2M516 791.5h11M540.5 791v2M606 791.5h2M618 791.5h2M408 792.5h2M434 792.5h2M464 792.5h4M471.5 792v2M497 792.5h2M506 792.5h3M512 792.5h4M604 792.5h2M620 792.5h2M406 793.5h2M436 793.5h2M452 793.5h12M495 793.5h2M509 793.5h3M541 793.5h1M602 793.5h2M622.5 793v2M404 794.5h2M438 794.5h4M448 794.5h4M472.5 794v2M494 794.5h1M542 794.5h1M601 794.5h1M402 795.5h2M442 795.5h6M493 795.5h1M543 795.5h1M599 795.5h2M623.5 795v3M401 796.5h1M473.5 796v2M492.5 796v2M544.5 796v2M590 796.5h9M399 797.5h2M589 797.5h1M398 798.5h1M474.5 798v2M491 798.5h1M545 798.5h1M588 798.5h1M624.5 798v3M346 799.5h5M396 799.5h2M490 799.5h1M546 799.5h1M587 799.5h1M340 800.5h6M351 800.5h1M366 800.5h2M395 800.5h1M475.5 800v2M489 800.5h1M547 800.5h1M586 800.5h1M336 801.5h4M352 801.5h2M364 801.5h2M368 801.5h2M394 801.5h1M488.5 801v2M548.5 801v2M585 801.5h1M625.5 801v3M332 802.5h4M354 802.5h1M362 802.5h2M370 802.5h3M392 802.5h2M476.5 802v2M584 802.5h1M328 803.5h4M355 803.5h1M361 803.5h1M373 803.5h2M391 803.5h1M487 803.5h1M549 803.5h1M583 803.5h1M326 804.5h2M356 804.5h2M359 804.5h2M375 804.5h2M389 804.5h2M477.5 804v2M485 804.5h2M550 804.5h4M582 804.5h1M626.5 804v2M325 805.5h1M358 805.5h1M377 805.5h2M386 805.5h3M482 805.5h3M554 805.5h5M581 805.5h1M324 806.5h1M379 806.5h2M384 806.5h2M478.5 806v2M480 806.5h2M559 806.5h1M580 806.5h1M627.5 806v3M323 807.5h1M381 807.5h3M479 807.5h1M560 807.5h1M579 807.5h1M645 807.5h18M754 807.5h8M322 808.5h1M561 808.5h1M578.5 808v2M643 808.5h2M663.5 808v2M749 808.5h5M762 808.5h5M321 809.5h1M562.5 809v2M628.5 809v3M641 809.5h2M746 809.5h3M766 809.5h1M320 810.5h1M577 810.5h1M639 810.5h2M664.5 810v2M744 810.5h2M767.5 810v4M309 811.5h5M319 811.5h1M563 811.5h1M576 811.5h1M638 811.5h1M740 811.5h4M306 812.5h3M314 812.5h5M564 812.5h1M575 812.5h1M629.5 812v3M636 812.5h2M665 812.5h1M736 812.5h4M304 813.5h2M565 813.5h1M570 813.5h5M634 813.5h2M666.5 813v2M734 813.5h2M302 814.5h2M566 814.5h4M633 814.5h1M733.5 814v2M768.5 814v4M301.5 815v2M630 815.5h3M667 815.5h1M630 816.5h1M668.5 816v2M710 816.5h1M732.5 816v2M300 817.5h1M708 817.5h2M711 817.5h1M299 818.5h1M669.5 818v2M706 818.5h2M712 818.5h1M731.5 818v2M769.5 818v4M298.5 819v2M686 819.5h1M705 819.5h1M713 819.5h1M670 820.5h1M684 820.5h2M687 820.5h2M703 820.5h2M714 820.5h2M730.5 820v2M1306 820.5h6M297 821.5h1M671 821.5h2M683 821.5h1M689 821.5h2M700 821.5h3M716 821.5h1M1302 821.5h4M1312 821.5h2M296 822.5h1M673 822.5h1M682 822.5h1M691 822.5h2M696 822.5h4M717 822.5h1M729.5 822v2M770.5 822v4M942 822.5h2M1301.5 822v2M1314 822.5h3M278 823.5h1M295.5 823v2M674 823.5h2M680 823.5h2M693 823.5h3M718 823.5h1M940 823.5h2M944 823.5h4M1317 823.5h2M277 824.5h1M279 824.5h1M676 824.5h2M679 824.5h1M719 824.5h2M728.5 824v2M938 824.5h2M948 824.5h4M1300 824.5h1M1319 824.5h1M276 825.5h1M280 825.5h1M294 825.5h1M678 825.5h1M721 825.5h1M937 825.5h1M952 825.5h4M1299.5 825v2M1320 825.5h1M1350 825.5h4M274 826.5h2M281 826.5h1M292 826.5h2M722 826.5h2M727.5 826v2M771.5 826v4M935 826.5h2M956 826.5h3M1321 826.5h1M1350 826.5h1M1354 826.5h13M273 827.5h1M282 827.5h1M291 827.5h1M724 827.5h2M934 827.5h1M958 827.5h1M1298 827.5h1M1322.5 827v2M1349.5 827v2M1367 827.5h2M272 828.5h1M283 828.5h1M290 828.5h1M726 828.5h1M933.5 828v2M959.5 828v2M1297.5 828v2M1369 828.5h1M271 829.5h1M284 829.5h1M288 829.5h2M1323 829.5h1M1348.5 829v2M1370 829.5h2M270 830.5h1M285 830.5h1M287 830.5h1M772.5 830v4M932.5 830v2M960.5 830v2M1296 830.5h1M1324 830.5h1M1372 830.5h2M1378 830.5h5M102 831.5h1M268 831.5h2M286 831.5h1M789 831.5h2M1282 831.5h6M1295.5 831v2M1325 831.5h1M1347.5 831v2M1374 831.5h4M101.5 832v2M103 832.5h1M266 832.5h2M787 832.5h2M791.5 832v2M931 832.5h1M961.5 832v2M1277 832.5h5M1288 832.5h4M1326 832.5h2M104 833.5h1M265 833.5h1M785 833.5h2M930.5 833v2M1275 833.5h2M1292 833.5h3M1328 833.5h2M1346.5 833v2M100 834.5h1M105 834.5h1M210 834.5h5M263 834.5h2M773.5 834v4M783 834.5h2M792 834.5h1M962.5 834v2M1273 834.5h2M1330 834.5h3M99.5 835v2M106 835.5h1M206 835.5h4M215.5 835v2M262 835.5h1M782 835.5h1M793 835.5h1M929 835.5h1M1271 835.5h2M1333 835.5h2M1345.5 835v2M107 836.5h1M204 836.5h2M246 836.5h1M261 836.5h1M780 836.5h2M794.5 836v2M885 836.5h2M928.5 836v2M963.5 836v2M1270 836.5h1M1335 836.5h1M98 837.5h1M108 837.5h1M202 837.5h2M216 837.5h1M245 837.5h1M247 837.5h1M260 837.5h1M778 837.5h2M822 837.5h2M883 837.5h2M887 837.5h1M1268 837.5h2M1336 837.5h2M1344.5 837v2M97.5 838v2M109 838.5h1M164 838.5h3M190 838.5h2M201 838.5h1M217 838.5h1M244 838.5h1M248 838.5h1M259 838.5h1M774.5 838v3M777 838.5h1M795 838.5h1M821 838.5h1M824 838.5h4M881 838.5h2M888 838.5h2M927.5 838v2M964.5 838v2M1266 838.5h2M1338 838.5h1M110 839.5h2M160 839.5h4M167 839.5h1M189 839.5h1M192 839.5h4M199 839.5h2M218.5 839v2M243 839.5h1M249 839.5h1M258.5 839v2M775 839.5h2M796 839.5h1M820 839.5h1M828 839.5h4M879 839.5h2M890 839.5h1M1254 839.5h2M1265 839.5h1M1339 839.5h1M1343.5 839v2M96 840.5h1M112 840.5h2M158 840.5h2M168 840.5h1M188.5 840v2M196 840.5h3M242.5 840v2M250 840.5h1M797.5 840v2M804 840.5h3M819 840.5h1M832 840.5h2M877 840.5h2M891 840.5h1M925 840.5h2M965.5 840v2M1254 840.5h1M1256 840.5h4M1263 840.5h2M1340 840.5h2M85 841.5h3M95.5 841v2M114 841.5h3M142 841.5h1M157.5 841v2M169 841.5h1M219 841.5h1M229 841.5h2M251 841.5h1M257 841.5h1M800 841.5h4M807 841.5h2M818 841.5h1M834 841.5h3M874 841.5h3M892 841.5h2M923 841.5h2M1253.5 841v3M1260 841.5h3M1342 841.5h1M83 842.5h2M88 842.5h4M117 842.5h2M141 842.5h1M143.5 842v2M170 842.5h1M187 842.5h1M220 842.5h1M227 842.5h2M231 842.5h2M241 842.5h1M252 842.5h1M256 842.5h1M798 842.5h2M809 842.5h1M817 842.5h1M837 842.5h2M872 842.5h2M894 842.5h4M921 842.5h2M966.5 842v2M81 843.5h2M92 843.5h3M119 843.5h2M140 843.5h1M156.5 843v2M171 843.5h1M186 843.5h1M221.5 843v2M225 843.5h2M233 843.5h2M240 843.5h1M253 843.5h1M255 843.5h1M810 843.5h2M816 843.5h1M839 843.5h1M870 843.5h2M898 843.5h5M919 843.5h2M967 843.5h8M79 844.5h2M121 844.5h1M138 844.5h2M144.5 844v2M172 844.5h1M185 844.5h1M223 844.5h2M235 844.5h2M239 844.5h1M254 844.5h1M812 844.5h2M815 844.5h1M840 844.5h1M869 844.5h1M903 844.5h2M917 844.5h2M975 844.5h1M1252.5 844v4M78 845.5h1M122 845.5h2M137 845.5h1M155.5 845v2M173 845.5h1M184.5 845v2M222 845.5h1M237 845.5h2M814 845.5h1M841 845.5h1M868 845.5h1M905 845.5h2M914 845.5h3M976 845.5h1M77.5 846v2M124 846.5h2M136 846.5h1M145 846.5h1M174 846.5h2M842 846.5h2M867 846.5h1M907 846.5h2M912 846.5h2M977 846.5h1M126 847.5h4M135 847.5h1M146.5 847v2M154 847.5h1M176 847.5h4M183 847.5h1M844 847.5h1M866 847.5h1M909 847.5h3M978 847.5h1M1122 847.5h6M76.5 848v2M130 848.5h5M153.5 848v2M180 848.5h3M845 848.5h1M865 848.5h1M979 848.5h1M1118 848.5h4M1128 848.5h2M1251.5 848v3M147 849.5h1M846 849.5h1M864 849.5h1M980 849.5h1M1117.5 849v2M1130 849.5h3M75.5 850v2M148.5 850v2M152.5 850v2M847 850.5h2M863 850.5h1M981 850.5h1M1102 850.5h1M1133 850.5h3M849 851.5h2M860 851.5h3M982 851.5h2M1100 851.5h2M1103 851.5h1M1116 851.5h1M1136 851.5h2M1166 851.5h2M1250.5 851v3M74 852.5h1M149.5 852v2M151.5 852v2M851 852.5h2M856 852.5h4M984 852.5h2M1086 852.5h1M1099 852.5h1M1104.5 852v2M1115.5 852v2M1138 852.5h3M1165.5 852v2M1168 852.5h2M73.5 853v2M853 853.5h3M986 853.5h3M1085.5 853v2M1087 853.5h2M1098 853.5h1M1141 853.5h2M1170 853.5h3M1178 853.5h5M150 854.5h1M989 854.5h3M1089 854.5h2M1096 854.5h2M1105 854.5h1M1114 854.5h1M1143 854.5h2M1164.5 854v2M1173 854.5h5M1183 854.5h1M1249.5 854v3M72.5 855v2M992 855.5h2M1084.5 855v2M1091 855.5h2M1095 855.5h1M1106 855.5h1M1113.5 855v2M1145 855.5h1M1184 855.5h1M994 856.5h3M1093 856.5h2M1107 856.5h1M1146 856.5h2M1163 856.5h1M1185 856.5h1M71.5 857v2M997 857.5h3M1083.5 857v2M1108.5 857v2M1112 857.5h1M1148 857.5h2M1162.5 857v2M1186 857.5h1M1248.5 857v4M1000 858.5h4M1111.5 858v2M1150 858.5h1M1187 858.5h1M68 859.5h3M1004 859.5h3M1082.5 859v2M1109 859.5h1M1151 859.5h1M1161 859.5h1M1188 859.5h1M64 860.5h4M1007.5 860v2M1070.5 860v2M1110 860.5h1M1152 860.5h2M1160.5 860v2M1189 860.5h1M62 861.5h2M1071 861.5h1M1081.5 861v2M1154 861.5h1M1190 861.5h1M1247.5 861v3M61.5 862v2M1008 862.5h1M1069.5 862v3M1072 862.5h1M1155 862.5h1M1159.5 862v2M1191 862.5h1M1009.5 863v2M1073 863.5h1M1080.5 863v2M1156 863.5h2M1192 863.5h2M60.5 864v2M1074 864.5h2M1158 864.5h1M1194 864.5h1M1246.5 864v2M1010 865.5h1M1068.5 865v2M1076 865.5h1M1079.5 865v2M1195 865.5h1M1214 865.5h4M59 866.5h1M1011.5 866v2M1077 866.5h1M1196 866.5h2M1213 866.5h1M1218 866.5h5M1245 866.5h1M58.5 867v2M1067.5 867v3M1078 867.5h1M1198 867.5h1M1212 867.5h1M1223 867.5h2M1244 867.5h1M1012 868.5h1M1199 868.5h1M1211 868.5h1M1225 868.5h1M1242 868.5h2M57 869.5h1M1013.5 869v2M1200 869.5h2M1210 869.5h1M1226 869.5h2M1241 869.5h1M6 870.5h1M56.5 870v2M1038 870.5h2M1066.5 870v3M1202 870.5h1M1209 870.5h1M1228 870.5h2M1240 870.5h1M5 871.5h1M7 871.5h1M1014 871.5h4M1037 871.5h1M1040 871.5h4M1203 871.5h1M1208 871.5h1M1230 871.5h4M1239 871.5h1M4 872.5h1M8.5 872v2M55.5 872v2M1018 872.5h5M1036 872.5h1M1044 872.5h3M1204 872.5h2M1207 872.5h1M1234 872.5h5M3.5 873v2M46 873.5h4M1023 873.5h1M1035 873.5h1M1047 873.5h1M1065.5 873v3M1206 873.5h1M9 874.5h1M44 874.5h2M50 874.5h5M1024 874.5h1M1034.5 874v2M1048 874.5h2M2 875.5h1M10 875.5h1M42 875.5h2M1025 875.5h1M1050 875.5h1M1 876.5h1M11 876.5h1M41 876.5h1M1026 876.5h2M1033 876.5h1M1051 876.5h1M1064.5 876v2M0 877.5h1M12.5 877v2M21 877.5h5M39 877.5h2M1028 877.5h1M1032 877.5h1M1052 877.5h2M18 878.5h3M26 878.5h13M1029 878.5h1M1031 878.5h1M1054 878.5h1M1063.5 878v3M13 879.5h1M16 879.5h2M1030 879.5h1M1055 879.5h2M14 880.5h2M1057 880.5h2M1059 881.5h2M1062.5 881v2M1061 882.5h1" stroke="#1e90ff" fill="none" shape-rendering="crispEdges"/>
<line x1="1298.0" y1="829.5" x2="1382.5" y2="828.3" stroke="#ff0000" stroke-width="3" stroke-linecap="round"/>
<polygon points="1388.5,828.2 1380.6,832.5 1380.4,824.1" fill="#ff0000"/>
<rect x="1650" y="752" width="1" height="1" fill="#000"/>
<rect x="1650" y="923" width="1" height="1" fill="#000"/>
<text x="1653" y="761" font-size="10.0" fill="#000" textLength="14.5" lengthAdjust="spacingAndGlyphs">100</text>
<text x="1653" y="790" font-size="10.0" fill="#000" textLength="9.8" lengthAdjust="spacingAndGlyphs">80</text>
<text x="1653" y="841" font-size="10.0" fill="#000" textLength="9.8" lengthAdjust="spacingAndGlyphs">50</text>
<text x="1653" y="902" font-size="10.0" fill="#000" textLength="9.8" lengthAdjust="spacingAndGlyphs">15</text>
<text x="1653" y="921" font-size="10.0" fill="#000" textLength="4.9" lengthAdjust="spacingAndGlyphs">0</text>
<text x="-11" y="937" font-size="10.0" fill="#000" textLength="46.9" lengthAdjust="spacingAndGlyphs">8 Mar 2022</text>
<rect x="54" y="925" width="1" height="3" fill="#000"/>
<text x="53" y="937" font-size="10.0" fill="#000" textLength="49.5" lengthAdjust="spacingAndGlyphs">9 Mar 00:00</text>
<rect x="118" y="925" width="1" height="3" fill="#000"/>
<text x="117" y="937" font-size="10.0" fill="#000" textLength="54.7" lengthAdjust="spacingAndGlyphs">10 Mar 10:55</text>
<rect x="182" y="925" width="1" height="3" fill="#000"/>
<text x="181" y="937" font-size="10.0" fill="#000" textLength="54.0" lengthAdjust="spacingAndGlyphs">11 Mar 18:55</text>
<rect x="246" y="925" width="1" height="3" fill="#000"/>
<text x="245" y="937" font-size="10.0" fill="#000" textLength="54.7" lengthAdjust="spacingAndGlyphs">15 Mar 00:00</text>
<rect x="310" y="925" width="1" height="3" fill="#000"/>
<text x="309" y="937" font-size="10.0" fill="#000" textLength="54.7" lengthAdjust="spacingAndGlyphs">16 Mar 10:55</text>
<rect x="374" y="925" width="1" height="3" fill="#000"/>
<text x="373" y="937" font-size="10.0" fill="#000" textLength="54.7" lengthAdjust="spacingAndGlyphs">17 Mar 18:55</text>
<rect x="438" y="925" width="1" height="3" fill="#000"/>
<text x="437" y="937" font-size="10.0" fill="#000" textLength="54.7" lengthAdjust="spacingAndGlyphs">21 Mar 00:00</text>
<rect x="502" y="925" width="1" height="3" fill="#000"/>
<text x="501" y="937" font-size="10.0" fill="#000" textLength="54.7" lengthAdjust="spacingAndGlyphs">22 Mar 10:55</text>
<rect x="566" y="925" width="1" height="3" fill="#000"/>
<text x="565" y="937" font-size="10.0" fill="#000" textLength="54.7" lengthAdjust="spacingAndGlyphs">23 Mar 18:55</text>
<rect x="630" y="925" width="1" height="3" fill="#000"/>
<text x="629" y="937" font-size="10.0" fill="#000" textLength="54.7" lengthAdjust="spacingAndGlyphs">25 Mar 00:00</text>
<rect x="694" y="925" width="1" height="3" fill="#000"/>
<text x="693" y="937" font-size="10.0" fill="#000" textLength="54.7" lengthAdjust="spacingAndGlyphs">28 Mar 10:55</text>
<rect x="758" y="925" width="1" height="3" fill="#000"/>
<text x="757" y="937" font-size="10.0" fill="#000" textLength="54.7" lengthAdjust="spacingAndGlyphs">29 Mar 18:55</text>
<rect x="822" y="925" width="1" height="3" fill="#000"/>
<text x="821" y="937" font-size="10.0" fill="#000" textLength="54.7" lengthAdjust="spacingAndGlyphs">31 Mar 00:00</text>
<rect x="886" y="925" width="1" height="3" fill="#000"/>
<text x="885" y="937" font-size="10.0" fill="#000" textLength="47.4" lengthAdjust="spacingAndGlyphs">1 Apr 10:55</text>
<rect x="950" y="925" width="1" height="3" fill="#000"/>
<text x="949" y="937" font-size="10.0" fill="#000" textLength="47.4" lengthAdjust="spacingAndGlyphs">4 Apr 18:55</text>
<rect x="1014" y="925" width="1" height="3" fill="#000"/>
<text x="1013" y="937" font-size="10.0" fill="#000" textLength="47.4" lengthAdjust="spacingAndGlyphs">6 Apr 00:00</text>
<rect x="1078" y="925" width="1" height="3" fill="#000"/>
<text x="1077" y="937" font-size="10.0" fill="#000" textLength="47.4" lengthAdjust="spacingAndGlyphs">7 Apr 10:55</text>
<rect x="1142" y="925" width="1" height="3" fill="#000"/>
<text x="1141" y="937" font-size="10.0" fill="#000" textLength="47.4" lengthAdjust="spacingAndGlyphs">8 Apr 18:55</text>
<rect x="1206" y="925" width="1" height="3" fill="#000"/>
<text x="1205" y="937" font-size="10.0" fill="#000" textLength="52.6" lengthAdjust="spacingAndGlyphs">12 Apr 00:00</text>
<rect x="1270" y="925" width="1" height="3" fill="#000"/>
<text x="1269" y="937" font-size="10.0" fill="#000" textLength="52.6" lengthAdjust="spacingAndGlyphs">13 Apr 10:55</text>
<rect x="1334" y="925" width="1" height="3" fill="#000"/>
<text x="1333" y="937" font-size="10.0" fill="#000" textLength="52.6" lengthAdjust="spacingAndGlyphs">14 Apr 18:55</text>
<text x="4.7" y="35" font-size="10.0" fill="#000" textLength="197.3" lengthAdjust="spacingAndGlyphs">JPN225-,H4  27012.5 27035.0 26837.5 27025.0</text>
<text x="-4.01843338213763" y="591" font-size="10.0" fill="#000" textLength="116.0" lengthAdjust="spacingAndGlyphs">MACD(12,26,9) 44.84 27.37</text>
<text x="-6.066486090775982" y="763" font-size="10.0" fill="#000" textLength="68.1" lengthAdjust="spacingAndGlyphs">RSI(14) 53.6646</text>
</svg>
<div id="oct">
  <div class="sell"><span>SELL</span></div>
  <div class="buy"><span>BUY</span></div>
  <div class="spin"><div class="dn"><i></i></div><div class="val">1.00</div><div class="up"><i></i></div></div>
  <div class="pl"><span class="sm">27023</span><span class="dot">.</span><span class="big">5</span></div>
  <div class="pr"><span class="sm">27046</span><span class="dot">.</span><span class="big">5</span></div>
</div>

<svg id="tbs" width="1696" height="22" viewBox="0 0 1696 22">
<defs>
<linearGradient id="gp" x1="0" y1="0" x2="0" y2="1"><stop offset="0" stop-color="#7dff7d"/><stop offset="0.5" stop-color="#1fe01f"/><stop offset="1" stop-color="#0aa80a"/></linearGradient>
<linearGradient id="gold" x1="0" y1="0" x2="1" y2="1"><stop offset="0" stop-color="#ffe45a"/><stop offset="0.6" stop-color="#f0b800"/><stop offset="1" stop-color="#c88a00"/></linearGradient>
<linearGradient id="cloud" x1="0" y1="0" x2="0" y2="1"><stop offset="0" stop-color="#ffffff"/><stop offset="1" stop-color="#b8c4dc"/></linearGradient>
<linearGradient id="glass" x1="0" y1="0" x2="0" y2="1"><stop offset="0" stop-color="#e8f6ff"/><stop offset="1" stop-color="#b8e0f4"/></linearGradient>
<linearGradient id="redb" x1="0" y1="0" x2="0" y2="1"><stop offset="0" stop-color="#e8502a"/><stop offset="1" stop-color="#d01808"/></linearGradient>
<linearGradient id="cndl" x1="0" y1="0" x2="1" y2="0"><stop offset="0" stop-color="#20c820"/><stop offset="0.5" stop-color="#80ff80"/><stop offset="1" stop-color="#20c820"/></linearGradient>
<radialGradient id="sig" cx="0" cy="0.45" r="1"><stop offset="0" stop-color="#eef4ee"/><stop offset="0.55" stop-color="#b4d8b4"/><stop offset="1" stop-color="#3aa83a"/></radialGradient>
</defs>
<rect x="285" y="0" width="24" height="17" fill="#f8f8f8" />
<rect x="437" y="0" width="25" height="17" fill="#f8f8f8" />
<rect x="465" y="0" width="25" height="17" fill="#f8f8f8" />
<rect x="625" y="0" width="24" height="17" fill="#f8f8f8" />
<rect x="1071" y="0" width="24" height="17" fill="#f8f8f8" />
<rect x="10" y="0" width="1" height="17" fill="#a0a0a0" />
<rect x="284" y="0" width="1" height="17" fill="#a0a0a0" />
<rect x="341" y="0" width="1" height="17" fill="#a0a0a0" />
<rect x="431" y="0" width="1" height="17" fill="#a0a0a0" />
<rect x="436" y="0" width="1" height="17" fill="#a0a0a0" />
<rect x="464" y="0" width="1" height="17" fill="#a0a0a0" />
<rect x="493" y="0" width="1" height="17" fill="#a0a0a0" />
<rect x="624" y="0" width="1" height="17" fill="#a0a0a0" />
<rect x="681" y="0" width="1" height="17" fill="#a0a0a0" />
<rect x="1070" y="0" width="1" height="17" fill="#a0a0a0" />
<rect x="246" y="0" width="1" height="19" fill="#a0a0a0" />
<rect x="247" y="0" width="1" height="19" fill="#fbfbfb" />
<rect x="614" y="0" width="1" height="19" fill="#a0a0a0" />
<rect x="615" y="0" width="1" height="19" fill="#fbfbfb" />
<rect x="920" y="0" width="1" height="19" fill="#a0a0a0" />
<rect x="921" y="0" width="1" height="19" fill="#fbfbfb" />
<rect x="1181" y="0" width="1" height="19" fill="#a0a0a0" />
<rect x="1182" y="0" width="1" height="19" fill="#fbfbfb" />
<rect x="250" y="1" width="3" height="1" fill="#a8a8a8" />
<rect x="250" y="3" width="3" height="1" fill="#a8a8a8" />
<rect x="250" y="5" width="3" height="1" fill="#a8a8a8" />
<rect x="250" y="7" width="3" height="1" fill="#a8a8a8" />
<rect x="250" y="9" width="3" height="1" fill="#a8a8a8" />
<rect x="250" y="11" width="3" height="1" fill="#a8a8a8" />
<rect x="250" y="13" width="3" height="1" fill="#a8a8a8" />
<rect x="250" y="15" width="3" height="1" fill="#a8a8a8" />
<rect x="618" y="1" width="3" height="1" fill="#a8a8a8" />
<rect x="618" y="3" width="3" height="1" fill="#a8a8a8" />
<rect x="618" y="5" width="3" height="1" fill="#a8a8a8" />
<rect x="618" y="7" width="3" height="1" fill="#a8a8a8" />
<rect x="618" y="9" width="3" height="1" fill="#a8a8a8" />
<rect x="618" y="11" width="3" height="1" fill="#a8a8a8" />
<rect x="618" y="13" width="3" height="1" fill="#a8a8a8" />
<rect x="618" y="15" width="3" height="1" fill="#a8a8a8" />
<rect x="924" y="1" width="3" height="1" fill="#a8a8a8" />
<rect x="924" y="3" width="3" height="1" fill="#a8a8a8" />
<rect x="924" y="5" width="3" height="1" fill="#a8a8a8" />
<rect x="924" y="7" width="3" height="1" fill="#a8a8a8" />
<rect x="924" y="9" width="3" height="1" fill="#a8a8a8" />
<rect x="924" y="11" width="3" height="1" fill="#a8a8a8" />
<rect x="924" y="13" width="3" height="1" fill="#a8a8a8" />
<rect x="924" y="15" width="3" height="1" fill="#a8a8a8" />
<path d="M3.5 4.6L5.6 6.7L3.5 8.8L1.4 6.7Z" fill="#fff" stroke="#111" stroke-width="0.9"/>
<path d="M0 12.5L2.6 14.6L1.4 16.8L0 16.4Z" fill="#e0a010"/>
<path d="M20.5 -1V11.3Q20.5 12.5 21.8 12.5H30.5V2.5L28 -0.5" fill="#fff" stroke="#777" stroke-width="1"/>
<rect x="22.5" y="1.5" width="2.5" height="1.2" fill="#999" />
<rect x="22.5" y="5" width="5" height="0.8" fill="#aaa" />
<rect x="22.5" y="7.5" width="5" height="0.8" fill="#aaa" />
<rect x="22.5" y="9.5" width="5" height="0.8" fill="#aaa" />
<path d="M28.4 5.4h3.2v4h4v3.2h-4v4h-3.2v-4h-4v-3.2h4z" fill="url(#gp)" stroke="#0a8f0a" stroke-width="0.9" stroke-linejoin="round"/>
<path d="M40.5 1.5L44.5 1.5M41.5 2.5L41.5 3.3M43.5 2.5L43.5 3.3M39.5 4.5L45.2 4.5M40.5 6.5L44.5 6.5M42.5 4.5L42.5 10.2M41.5 7.5L39.6 9.2M43.6 7.5L45 9M40.8 10.5L42.5 10.5M46.8 1.5L49 1M46.5 1.5L46.5 7M46.5 7L45.6 10M46.5 4.5L53.3 4.5M48.5 5L48.5 10.5M52.5 5L52.5 10.5" stroke="#0a0a0a" stroke-width="0.95" fill="none" stroke-linecap="square"/>
<path d="M53 0.5L54 2M53.5 4.5L55 4.5M55 4.5L55 9M55 9.3L56.5 7.8M56.5 1.5L62.5 1.5M59.5 1.5L59.5 10.3M57 10.5L59.5 10.5" stroke="#0a0a0a" stroke-width="0.95" fill="none" stroke-linecap="square"/>
<path d="M65.8 0L66.5 1M71.5 0L70.8 1M64.5 2.5L73.5 2.5M64.5 4.5L73.5 4.5M64.5 6.5L73.5 6.5M64.5 2.5L64.5 6.5M73.5 2.5L73.5 6.5M69 2.5L69 11M63.5 8.5L74.5 8.5" stroke="#0a0a0a" stroke-width="0.95" fill="none" stroke-linecap="square"/>
<path d="M95 14.9L102.9 9.2L102 8.2L94.4 13.8Z" fill="#f4e6b0" stroke="#a86800" stroke-width="0.7"/>
<path d="M92 -1L93.8 0.8L102.3 8.6L94.8 14.3L87.2 9Z" fill="url(#gold)" stroke="#a06000" stroke-width="1.2" stroke-linejoin="round"/>
<path d="M93.2 2.2L99.6 8.2L94.8 11.8" fill="none" stroke="#fff2a8" stroke-width="0.9" opacity="0.7"/>
<path d="M117.5 -1V8.5H127.6V-1Z" fill="#20a8ff" stroke="#0c80e0" stroke-width="1"/>
<path d="M117.5 -1V8.5H120.6V-1Z" fill="#0c8cf0"/>
<rect x="120.6" y="-1" width="0.8" height="9.5" fill="#c8ecff" />
<rect x="121.8" y="3.2" width="4.8" height="1.4" fill="#f0faff" />
<rect x="121.8" y="5.9" width="4.8" height="0.9" fill="#a8dcff" />
<path d="M118 14.6C115.2 14.6 114.8 10.6 117.6 10.2C117.8 8 120.6 7.4 121.8 8.8C123 6.8 126.6 6.8 127.4 9.2C130.6 8.6 131.8 13 129.4 14.6Z" fill="url(#cloud)" stroke="#4868a8" stroke-width="1"/>
<path d="M151 6.8V14.8A8 8 0 0 0 152.5 -1.1000000000000005Z" fill="url(#sig)" opacity="0.95"/>
<path d="M151.5 14.399999999999999A7.6 7.6 0 0 0 155.2 0.5999999999999996" fill="none" stroke="#2c9c2c" stroke-width="1" opacity="0.8"/>
<path d="M150 14.3A7.6 7.6 0 0 1 149.5 -0.7000000000000002" fill="none" stroke="#5a86dc" stroke-width="1.1" opacity="0.8"/>
<path d="M150 11.399999999999999A4.8 4.8 0 0 1 152 2.0999999999999996" fill="none" stroke="#4a78d8" stroke-width="1.2" opacity="0.85"/>
<path d="M152 2.0999999999999996A4.8 4.8 0 0 1 155.6 8.3" fill="none" stroke="#9ab8e8" stroke-width="1.1" opacity="0.8"/>
<circle cx="151" cy="6.8" r="1.9" fill="#2858c8"/>
<rect x="150.8" y="7.2" width="1.4" height="7.7" fill="#18a818" />
<path d="M170.6 6.8L185.6 6.4L178.6 14.8Z" fill="#f6dc50" stroke="#d0a818" stroke-width="1" stroke-linejoin="round"/>
<path d="M175.5 -1L174.6 2.2C171.5 2.6 170.3 3.6 170.4 4.6C170.6 6 174 6.8 178 6.6C182.5 6.4 185.8 5.2 185.6 3.6C185.4 2.6 183.5 2 181.4 2L180.6 -1Z" fill="#58b8e8" stroke="#2890c0" stroke-width="0.8"/>
<circle cx="182.5" cy="10.8" r="4.1" fill="url(#redb)" stroke="#b81000" stroke-width="0.6"/>
<rect x="180.9" y="9.2" width="3.3" height="3.3" fill="#fff" />
<path d="M192.5 1.5L192.5 10.5M201.5 1.5L201.5 10.5M192.5 1.5L201.5 1.5M192.5 4L201.5 4M192.5 6.5L201.5 6.5M192.5 9.5L201.5 9.5M196.5 0L196 1" stroke="#0a0a0a" stroke-width="0.95" fill="none" stroke-linecap="square"/>
<path d="M204.5 1.5L208.3 1.5M203.5 4.5L208.5 4.5M206.5 5L204.5 9M204.5 9.5L208 9.3M207.8 7L208.6 9.2M209.5 2.5L214.3 2.5M211.5 0L211.2 5M211.2 5L209 10.3M213.5 2.5L213.5 10M211.6 10.5L213.5 10.5" stroke="#0a0a0a" stroke-width="0.95" fill="none" stroke-linecap="square"/>
<path d="M220.8 0L220.8 1.2M215.5 2.5L226.5 2.5M218.4 4L216.8 6M223 4L225 6M223.5 6L220.8 9M220.8 9L216 10.6M218.5 6L221 9M221 9L226.3 10.6" stroke="#0a0a0a" stroke-width="0.95" fill="none" stroke-linecap="square"/>
<path d="M229.5 0.4L237.5 0.4M229.5 2.5L237.5 2.5M229.5 4.5L237.5 4.5M229.5 0L229.5 4.5M237.5 0L237.5 4.5M231 5L227.8 7.8M229.5 6.5L238 6.5M237.8 6.5L237.3 10M235 10.5L237.3 10.5M233 7L229 9.8M235.5 7.2L232 10.5" stroke="#0a0a0a" stroke-width="0.95" fill="none" stroke-linecap="square"/>
<rect x="264" y="1.5" width="1.2" height="13.3" fill="#555" />
<rect x="262" y="12" width="14" height="1.2" fill="#555" />
<path d="M264.6 0.8L262.8 3.2H266.4Z" fill="#555"/>
<path d="M276.4 12.6L274 10.8V14.4Z" fill="#555"/>
<path d="M270.6 2.4V10.6M270.6 3.4H273M270.6 9.4H268.2" stroke="#108a10" stroke-width="1.5" fill="none"/>
<rect x="292" y="1.5" width="1.2" height="13.3" fill="#555" />
<rect x="290" y="12" width="14" height="1.2" fill="#555" />
<path d="M292.6 0.8L290.8 3.2H294.4Z" fill="#555"/>
<path d="M304.4 12.6L302 10.8V14.4Z" fill="#555"/>
<rect x="298" y="0" width="1.2" height="11" fill="#0a8a0a" />
<rect x="296.3" y="1.7" width="4.6" height="7" fill="url(#cndl)" stroke="#0a8a0a" stroke-width="0.9"/>
<rect x="320" y="1.5" width="1.2" height="13.3" fill="#555" />
<rect x="318" y="12" width="14" height="1.2" fill="#555" />
<path d="M320.6 0.8L318.8 3.2H322.4Z" fill="#555"/>
<path d="M332.4 12.6L330 10.8V14.4Z" fill="#555"/>
<path d="M319.2 9.8C321.5 8.5 323 4 325.3 4.2C327.4 4.4 328.5 7.2 330.8 8.2" stroke="#2a9a2a" stroke-width="1.3" fill="none"/>
<path d="M359.4 8.6L365.4 14.2" stroke="#b88a00" stroke-width="3.6" stroke-linecap="butt"/>
<path d="M359.6 8.8L365 13.8" stroke="#f4dc40" stroke-width="2" stroke-linecap="butt"/>
<circle cx="356" cy="5" r="5.6" fill="url(#glass)" stroke="#2878c8" stroke-width="1.3"/>
<path d="M352.7 5H359.3" stroke="#3c8cb8" stroke-width="2.2"/>
<path d="M356 1.7V8.3" stroke="#3c8cb8" stroke-width="2.2"/>
<path d="M387.4 8.6L393.4 14.2" stroke="#b88a00" stroke-width="3.6" stroke-linecap="butt"/>
<path d="M387.6 8.8L393 13.8" stroke="#f4dc40" stroke-width="2" stroke-linecap="butt"/>
<circle cx="384" cy="5" r="5.6" fill="url(#glass)" stroke="#2878c8" stroke-width="1.3"/>
<path d="M380.7 5H387.3" stroke="#3c8cb8" stroke-width="2.2"/>
<rect x="406.2" y="-0.2" width="7.6" height="6.9" rx="0.7" fill="#2fa010"/>
<rect x="407.09999999999997" y="1.9000000000000001" width="5.8" height="4" fill="#fff"/>
<rect x="408.09999999999997" y="3.3" width="3.8" height="1" fill="#9ad880" />
<rect x="407.2" y="0.49999999999999994" width="0.9" height="0.9" fill="#cfe0ff" />
<rect x="414.2" y="-0.2" width="7.6" height="6.9" rx="0.7" fill="#1c4fd0"/>
<rect x="415.09999999999997" y="1.9000000000000001" width="5.8" height="4" fill="#fff"/>
<rect x="416.09999999999997" y="3.3" width="3.8" height="1" fill="#90a8f0" />
<rect x="415.2" y="0.49999999999999994" width="0.9" height="0.9" fill="#cfe0ff" />
<rect x="406.2" y="7.6" width="7.6" height="6.9" rx="0.7" fill="#1c4fd0"/>
<rect x="407.09999999999997" y="9.7" width="5.8" height="4" fill="#fff"/>
<rect x="408.09999999999997" y="11.1" width="3.8" height="1" fill="#90a8f0" />
<rect x="407.2" y="8.299999999999999" width="0.9" height="0.9" fill="#cfe0ff" />
<rect x="414.2" y="7.6" width="7.6" height="6.9" rx="0.7" fill="#2fa010"/>
<rect x="415.09999999999997" y="9.7" width="5.8" height="4" fill="#fff"/>
<rect x="416.09999999999997" y="11.1" width="3.8" height="1" fill="#9ad880" />
<rect x="415.2" y="8.299999999999999" width="0.9" height="0.9" fill="#cfe0ff" />
<rect x="444" y="1.5" width="1.2" height="13.3" fill="#555" />
<rect x="442" y="12" width="14" height="1.2" fill="#555" />
<path d="M444.6 0.8L442.8 3.2H446.4Z" fill="#555"/>
<path d="M456.4 12.6L454 10.8V14.4Z" fill="#555"/>
<path d="M449.2 3L453 6.5L449.2 9.8Z" fill="#58d858" stroke="#0a8a0a" stroke-width="1.1" stroke-linejoin="round"/>
<rect x="472" y="1.5" width="1.2" height="13.3" fill="#555" />
<rect x="470" y="12" width="14" height="1.2" fill="#555" />
<path d="M472.6 0.8L470.8 3.2H474.4Z" fill="#555"/>
<path d="M484.4 12.6L482 10.8V14.4Z" fill="#555"/>
<rect x="477.8" y="1.2" width="1.4" height="9.8" fill="#1c70b0" />
<path d="M479.2 6.5L482 4.2V5.8H484.2V7.2H482V8.8Z" fill="#e85010" stroke="#c03800" stroke-width="0.4"/>
<path d="M503.5 -1V11.3Q503.5 12.5 504.8 12.5H513.5V2.5L511 -0.5" fill="#fff" stroke="#777" stroke-width="1"/>
<rect x="505.5" y="1.5" width="2.5" height="1.2" fill="#999" />
<rect x="505.5" y="5" width="5" height="0.8" fill="#aaa" />
<rect x="505.5" y="7.5" width="5" height="0.8" fill="#aaa" />
<rect x="505.5" y="9.5" width="5" height="0.8" fill="#aaa" />
<path d="M511.4 5.4h3.2v4h4v3.2h-4v4h-3.2v-4h-4v-3.2h4z" fill="url(#gp)" stroke="#0a8f0a" stroke-width="0.9" stroke-linejoin="round"/>
<path d="M524.7 5.8H530.3L527.5 9.2Z" fill="#000"/>
<circle cx="549" cy="7" r="6.7" fill="#f4f8ff" stroke="#1474d8" stroke-width="2.7"/>
<circle cx="549" cy="7" r="8.1" fill="none" stroke="#0c50a8" stroke-width="0.5"/>
<path d="M548.5 3.8V7.4H551.2" stroke="#222" stroke-width="1.1" fill="none"/>
<circle cx="549" cy="7" r="4.4" fill="none" stroke="#8a9ab0" stroke-width="0.7" stroke-dasharray="0.6 1.7"/>
<path d="M563.6 5.8H569.1999999999999L566.4 9.2Z" fill="#000"/>
<rect x="580.6" y="-1" width="15" height="14.6" rx="1" fill="#fff" stroke="#3274c4" stroke-width="1.2"/>
<rect x="581" y="-1" width="14.2" height="3" fill="#4a8ad8" />
<rect x="581" y="7.6" width="14.2" height="1" fill="#3274c4" />
<path d="M582.5 6.3H584L585.5 5.2H586.8L588 4.2H589.5L590.5 5.3H592L593 4.3H594" stroke="#a01808" stroke-width="1.1" fill="none"/>
<path d="M583 11.6H584.4L585.5 10.5H586.6L587.6 11.4H589L590.8 9.4H591.8L593.8 11.6" stroke="#109018" stroke-width="1.1" fill="none"/>
<path d="M602.8000000000001 5.8H608.4L605.6 9.2Z" fill="#000"/>
<path d="M632.2 -1V10.6L634.9 8.3L637.3 13.9L638.8 13.2L636.6 7.8L640 7.5Z" fill="#4a4a4a"/>
<rect x="664" y="0" width="1" height="6.3" fill="#555" />
<rect x="664" y="8.7" width="1" height="6.1" fill="#555" />
<rect x="657" y="7" width="6.3" height="1" fill="#555" />
<rect x="665.8" y="7" width="6" height="1" fill="#555" />
<rect x="698" y="1.2" width="1.3" height="12.8" fill="#555" />
<rect x="721" y="6.8" width="12" height="1.3" fill="#555" />
<path d="M748.8 13.9L760.9 1.8" stroke="#555" stroke-width="1.1"/>
<path d="M775 8.8L782.6 1.2M776.8 13.6L788.6 2.4M779.8 14L789 5.2" stroke="#555" stroke-width="0.9"/>
<path d="M777.4 7L777 12.6M780.2 4.6L779.8 10.4M783 3L782.6 8M786 0L785.6 5.6" stroke="#555" stroke-width="1.2"/>
<path d="M789.4 11.4H786.2V15.4H789.6M786.2 13.4H789" stroke="#333" stroke-width="1.1" fill="none"/>
<path d="M804 0.5H817" stroke="#555" stroke-width="1" stroke-dasharray="1 1"/>
<path d="M804 3.5H817" stroke="#555" stroke-width="1" stroke-dasharray="1 1"/>
<path d="M804 7.5H817" stroke="#555" stroke-width="1" stroke-dasharray="1 1"/>
<path d="M804 11.5H813" stroke="#555" stroke-width="1" stroke-dasharray="1 1"/>
<path d="M817.6 11.6H814.4V15.6M814.4 13.5H817" stroke="#333" stroke-width="1.1" fill="none"/>
<path d="M835.3 12L838.6 3.2L841.9 12M836.6 8.9H840.6" stroke="#555" stroke-width="1.5" fill="none" stroke-linejoin="miter"/>
<rect x="861.5" y="2" width="11" height="11.5" fill="none" stroke="#555" stroke-width="1" stroke-dasharray="1 1"/>
<path d="M863.3 4.6H870.9M867.1 4.6V11.8" stroke="#555" stroke-width="1.5" fill="none"/>
<rect x="860" y="0" width="2.6" height="1.4" fill="#444" />
<path d="M891.6 0.8L888.2 4.3H890V5.6H893.4V4.3H895.2Z" fill="#555"/>
<path d="M898.7 14.2L895.2 10.4H897V9H900.4V10.4H902.2Z" fill="#555"/>
<path d="M890.2 8.8L892.5 10.9L896.6 5.3" stroke="#555" stroke-width="1.3" fill="none"/>
<path d="M908.6 5.8H914.1999999999999L911.4 9.2Z" fill="#000"/>
<text x="935.9" y="11" font-size="10" fill="#333" textLength="12.2" lengthAdjust="spacingAndGlyphs">M1</text>
<text x="964" y="11" font-size="10" fill="#333" textLength="12.2" lengthAdjust="spacingAndGlyphs">M5</text>
<text x="990" y="11" font-size="10" fill="#333" textLength="17.3" lengthAdjust="spacingAndGlyphs">M15</text>
<text x="1017.9" y="11" font-size="10" fill="#333" textLength="17.5" lengthAdjust="spacingAndGlyphs">M30</text>
<text x="1048.9" y="11" font-size="10" fill="#333" textLength="11.3" lengthAdjust="spacingAndGlyphs">H1</text>
<text x="1076" y="11" font-size="10" fill="#333" textLength="11.8" lengthAdjust="spacingAndGlyphs">H4</text>
<text x="1105" y="11" font-size="10" fill="#333" textLength="11.1" lengthAdjust="spacingAndGlyphs">D1</text>
<text x="1132" y="11" font-size="10" fill="#333" textLength="14.0" lengthAdjust="spacingAndGlyphs">W1</text>
<text x="1159" y="11" font-size="10" fill="#333" textLength="14.3" lengthAdjust="spacingAndGlyphs">MN</text>
<path d="M1648.6 7.6L1644.2 11.8" stroke="#2c5cd8" stroke-width="2.2" stroke-linecap="round"/>
<circle cx="1651.6" cy="4.4" r="3.6" fill="#f4f6ff" stroke="#2c5cd8" stroke-width="1.3"/>
<path d="M1668.5 9.5C1668.5 6.5 1671 4.8 1674 4.8C1677.5 4.8 1679.5 6.8 1679.5 9.3C1679.5 11.8 1677 13.2 1674.2 13.2L1671.2 15.6L1671.6 12.8C1669.8 12.2 1668.5 11 1668.5 9.5Z" fill="#e6e8ee" stroke="#b0b4bc" stroke-width="0.8"/>
<circle cx="1682.3" cy="4.6" r="8.3" fill="url(#redb)"/>
<text x="1678.2" y="9" font-family="Liberation Serif" font-weight="bold" font-size="13.5" fill="#fff">1</text>
</svg>
</body></html>
